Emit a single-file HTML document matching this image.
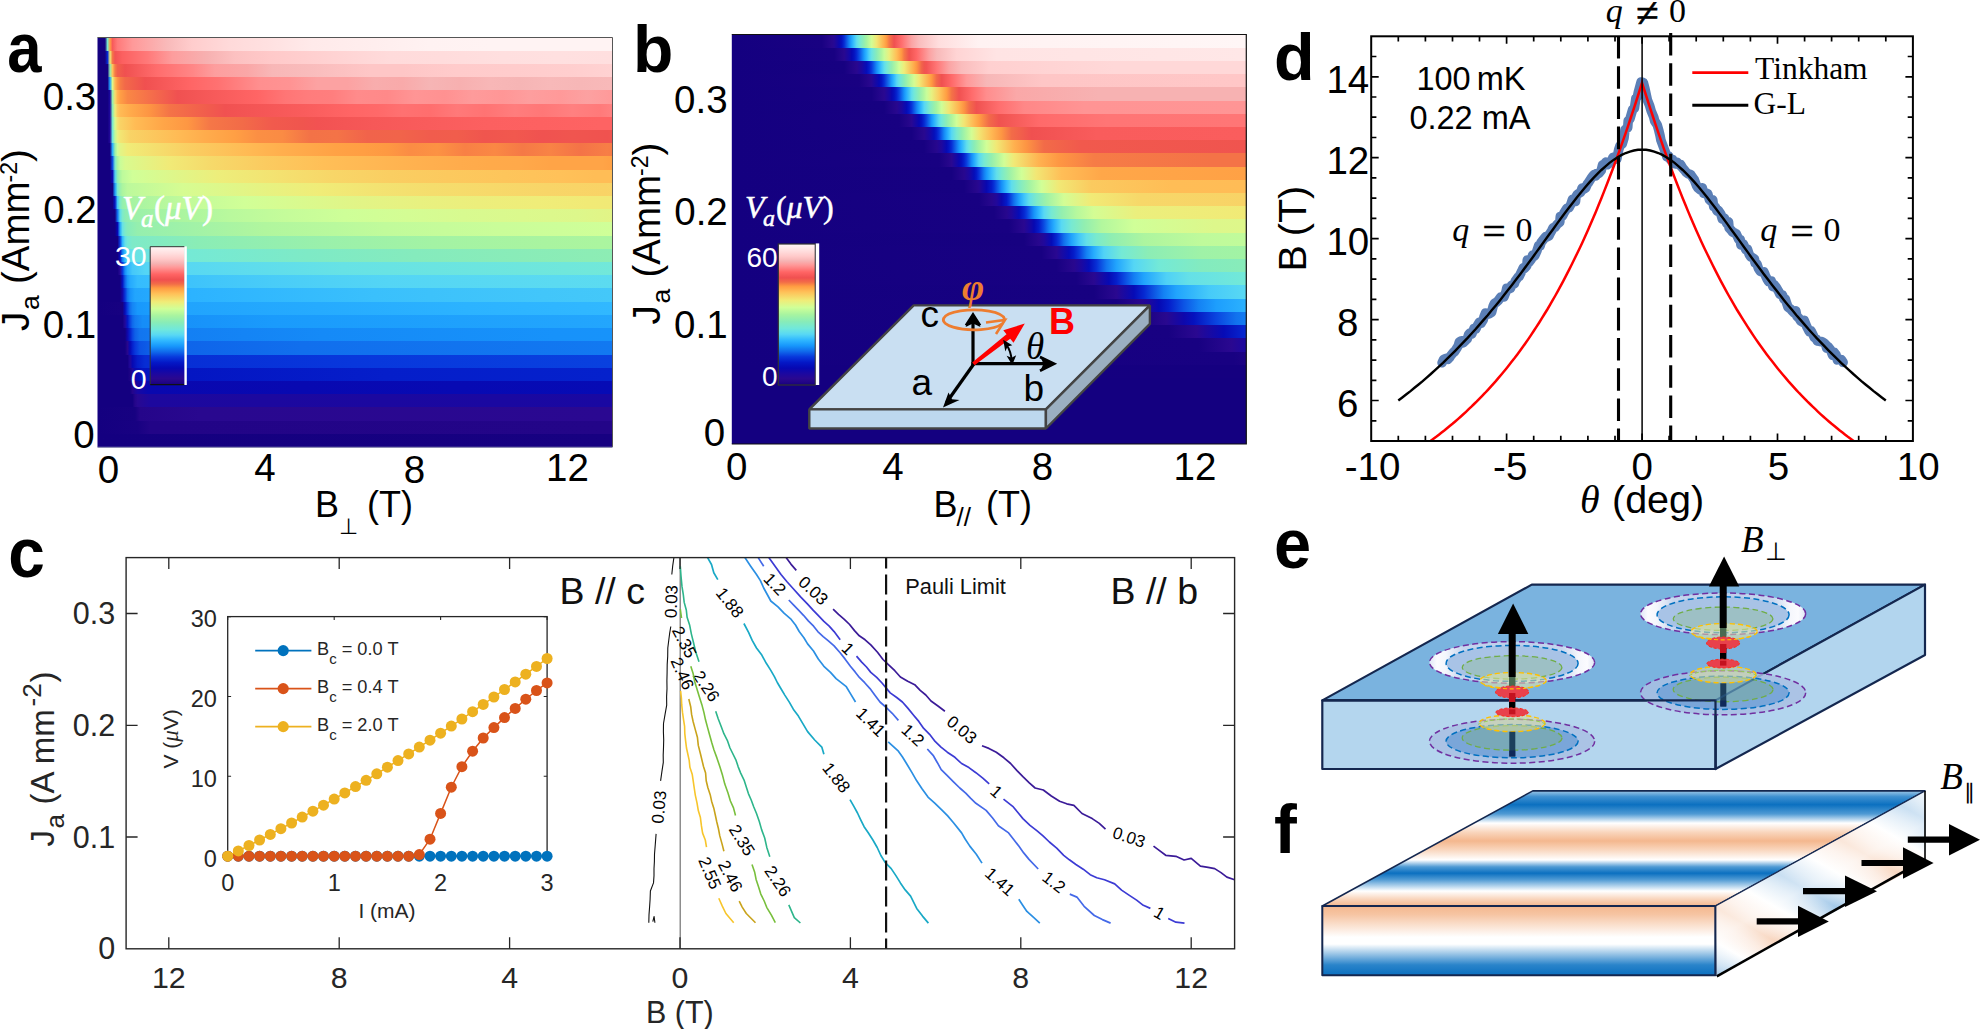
<!DOCTYPE html><html><head><meta charset="utf-8"><title>figure</title><style>html,body{margin:0;padding:0;background:#fff}svg{display:block}</style></head><body><svg width="1980" height="1029" viewBox="0 0 1980 1029" font-family="'Liberation Sans', sans-serif" fill="#000"><defs><linearGradient id="ga0" gradientUnits="userSpaceOnUse" x1="97.5" y1="0" x2="612.5" y2="0"><stop offset="0" stop-color="#140080"/><stop offset="0.01456" stop-color="#140080"/><stop offset="0.01942" stop-color="#7beacc"/><stop offset="0.02427" stop-color="#ff9f44"/><stop offset="0.02913" stop-color="#f85a5a"/><stop offset="0.03883" stop-color="#ff7a7a"/><stop offset="0.06796" stop-color="#ff9999"/><stop offset="0.1359" stop-color="#f9baba"/><stop offset="0.1845" stop-color="#ffcdcd"/><stop offset="0.2573" stop-color="#ffdada"/><stop offset="0.3252" stop-color="#ffe0e0"/><stop offset="0.4175" stop-color="#ffeaea"/><stop offset="0.5388" stop-color="#ffeeee"/><stop offset="0.6456" stop-color="#fff2f2"/><stop offset="0.7621" stop-color="#fff3f3"/><stop offset="1" stop-color="#fff3f3"/></linearGradient><linearGradient id="ga1" gradientUnits="userSpaceOnUse" x1="97.5" y1="0" x2="612.5" y2="0"><stop offset="0" stop-color="#140080"/><stop offset="0.01456" stop-color="#140080"/><stop offset="0.01942" stop-color="#062bd3"/><stop offset="0.02427" stop-color="#edee7b"/><stop offset="0.02913" stop-color="#f57647"/><stop offset="0.03398" stop-color="#f25353"/><stop offset="0.04854" stop-color="#fc6060"/><stop offset="0.09709" stop-color="#ff7979"/><stop offset="0.1456" stop-color="#fd9d9d"/><stop offset="0.2136" stop-color="#f7b1b1"/><stop offset="0.267" stop-color="#fcc1c1"/><stop offset="0.335" stop-color="#ffc9c9"/><stop offset="0.3981" stop-color="#ffcece"/><stop offset="0.5" stop-color="#ffd6d6"/><stop offset="0.568" stop-color="#ffdbdb"/><stop offset="0.6699" stop-color="#ffdcdc"/><stop offset="0.7864" stop-color="#ffdfdf"/><stop offset="0.8932" stop-color="#ffe0e0"/><stop offset="1" stop-color="#ffdfdf"/></linearGradient><linearGradient id="ga2" gradientUnits="userSpaceOnUse" x1="97.5" y1="0" x2="612.5" y2="0"><stop offset="0" stop-color="#140080"/><stop offset="0.01942" stop-color="#140080"/><stop offset="0.02427" stop-color="#91eeb1"/><stop offset="0.02913" stop-color="#fec25a"/><stop offset="0.03398" stop-color="#f67b46"/><stop offset="0.03883" stop-color="#f1604b"/><stop offset="0.0534" stop-color="#f05050"/><stop offset="0.1165" stop-color="#ff6d6d"/><stop offset="0.1845" stop-color="#ff8686"/><stop offset="0.2282" stop-color="#fd9e9e"/><stop offset="0.2913" stop-color="#faa7a7"/><stop offset="0.3398" stop-color="#f8b7b7"/><stop offset="0.4126" stop-color="#f9bcbc"/><stop offset="0.4709" stop-color="#fcc1c1"/><stop offset="0.5291" stop-color="#fec6c6"/><stop offset="0.5922" stop-color="#fec6c6"/><stop offset="0.6942" stop-color="#ffcbcb"/><stop offset="0.8107" stop-color="#ffcccc"/><stop offset="0.9175" stop-color="#ffcece"/><stop offset="1" stop-color="#ffd2d2"/></linearGradient><linearGradient id="ga3" gradientUnits="userSpaceOnUse" x1="97.5" y1="0" x2="612.5" y2="0"><stop offset="0" stop-color="#140080"/><stop offset="0.01942" stop-color="#140080"/><stop offset="0.02427" stop-color="#20a2fd"/><stop offset="0.02913" stop-color="#def78a"/><stop offset="0.03398" stop-color="#ffb853"/><stop offset="0.03883" stop-color="#fd9543"/><stop offset="0.04369" stop-color="#f67d46"/><stop offset="0.0534" stop-color="#f26949"/><stop offset="0.09223" stop-color="#f05050"/><stop offset="0.1796" stop-color="#ff6565"/><stop offset="0.233" stop-color="#ff7171"/><stop offset="0.3155" stop-color="#ff8f8f"/><stop offset="0.3738" stop-color="#ff9393"/><stop offset="0.4272" stop-color="#fca2a2"/><stop offset="0.4854" stop-color="#fca2a2"/><stop offset="0.5388" stop-color="#f8adad"/><stop offset="0.5922" stop-color="#f9aaaa"/><stop offset="0.6456" stop-color="#f6b5b5"/><stop offset="0.7039" stop-color="#f7b0b0"/><stop offset="0.7621" stop-color="#f8b7b7"/><stop offset="0.8204" stop-color="#f6b5b5"/><stop offset="0.8786" stop-color="#f8b9b9"/><stop offset="0.9369" stop-color="#f7b7b7"/><stop offset="0.9951" stop-color="#f8b9b9"/><stop offset="1" stop-color="#f8b8b8"/></linearGradient><linearGradient id="ga4" gradientUnits="userSpaceOnUse" x1="97.5" y1="0" x2="612.5" y2="0"><stop offset="0" stop-color="#140080"/><stop offset="0.01942" stop-color="#140080"/><stop offset="0.02427" stop-color="#1b08a0"/><stop offset="0.02913" stop-color="#99f0ab"/><stop offset="0.03398" stop-color="#f5dd6d"/><stop offset="0.03883" stop-color="#ffb350"/><stop offset="0.04369" stop-color="#ffa045"/><stop offset="0.05825" stop-color="#f98745"/><stop offset="0.1553" stop-color="#f05151"/><stop offset="0.3107" stop-color="#ff6565"/><stop offset="0.3641" stop-color="#ff7575"/><stop offset="0.4078" stop-color="#ff7c7c"/><stop offset="0.4563" stop-color="#ff7e7e"/><stop offset="0.5049" stop-color="#ff8b8b"/><stop offset="0.5631" stop-color="#ff8989"/><stop offset="0.6165" stop-color="#ff9595"/><stop offset="0.6748" stop-color="#ff9191"/><stop offset="0.7282" stop-color="#fe9b9b"/><stop offset="0.7864" stop-color="#ff9696"/><stop offset="0.8398" stop-color="#fd9e9e"/><stop offset="0.8981" stop-color="#ff9999"/><stop offset="0.9515" stop-color="#fca1a1"/><stop offset="1" stop-color="#ff9999"/></linearGradient><linearGradient id="ga5" gradientUnits="userSpaceOnUse" x1="97.5" y1="0" x2="612.5" y2="0"><stop offset="0" stop-color="#140080"/><stop offset="0.01942" stop-color="#140080"/><stop offset="0.02427" stop-color="#1e089e"/><stop offset="0.02913" stop-color="#89ecb7"/><stop offset="0.03398" stop-color="#ebef7d"/><stop offset="0.03883" stop-color="#fbcb60"/><stop offset="0.04369" stop-color="#ffbb55"/><stop offset="0.06311" stop-color="#ffab4b"/><stop offset="0.1019" stop-color="#fd9443"/><stop offset="0.1408" stop-color="#f47347"/><stop offset="0.2136" stop-color="#f15c4d"/><stop offset="0.2476" stop-color="#f15151"/><stop offset="0.3981" stop-color="#f95c5c"/><stop offset="0.4903" stop-color="#ff6565"/><stop offset="0.5437" stop-color="#ff6969"/><stop offset="0.5922" stop-color="#ff7171"/><stop offset="0.6456" stop-color="#ff6e6e"/><stop offset="0.699" stop-color="#ff7979"/><stop offset="0.7524" stop-color="#ff7373"/><stop offset="0.8107" stop-color="#ff7d7d"/><stop offset="0.8641" stop-color="#ff7777"/><stop offset="0.9223" stop-color="#ff8080"/><stop offset="0.9757" stop-color="#ff7a7a"/><stop offset="1" stop-color="#ff8181"/></linearGradient><linearGradient id="ga6" gradientUnits="userSpaceOnUse" x1="97.5" y1="0" x2="612.5" y2="0"><stop offset="0" stop-color="#140080"/><stop offset="0.01942" stop-color="#140080"/><stop offset="0.02427" stop-color="#20089b"/><stop offset="0.02913" stop-color="#7beacc"/><stop offset="0.03398" stop-color="#d6fc92"/><stop offset="0.03883" stop-color="#f3e371"/><stop offset="0.04369" stop-color="#f9d366"/><stop offset="0.07282" stop-color="#ffbc55"/><stop offset="0.1262" stop-color="#ffa648"/><stop offset="0.1748" stop-color="#fe9743"/><stop offset="0.2184" stop-color="#f57747"/><stop offset="0.2816" stop-color="#f26b48"/><stop offset="0.3398" stop-color="#f15a4d"/><stop offset="0.3981" stop-color="#f0554e"/><stop offset="0.4272" stop-color="#f25252"/><stop offset="0.534" stop-color="#f65858"/><stop offset="0.6408" stop-color="#f95c5c"/><stop offset="0.7573" stop-color="#fc6060"/><stop offset="0.8592" stop-color="#fd6161"/><stop offset="0.9757" stop-color="#fe6363"/><stop offset="1" stop-color="#fe6363"/></linearGradient><linearGradient id="ga7" gradientUnits="userSpaceOnUse" x1="97.5" y1="0" x2="612.5" y2="0"><stop offset="0" stop-color="#140080"/><stop offset="0.01942" stop-color="#140080"/><stop offset="0.02427" stop-color="#220899"/><stop offset="0.02913" stop-color="#6de6df"/><stop offset="0.03398" stop-color="#bffa9b"/><stop offset="0.03883" stop-color="#e6f282"/><stop offset="0.04369" stop-color="#f2e674"/><stop offset="0.06311" stop-color="#f8d366"/><stop offset="0.1553" stop-color="#ffbb55"/><stop offset="0.2087" stop-color="#ffac4c"/><stop offset="0.267" stop-color="#ff9f44"/><stop offset="0.3107" stop-color="#fb8f44"/><stop offset="0.3592" stop-color="#fa8b44"/><stop offset="0.4126" stop-color="#f37247"/><stop offset="0.466" stop-color="#f47347"/><stop offset="0.5243" stop-color="#f1634b"/><stop offset="0.5874" stop-color="#f1644a"/><stop offset="0.6456" stop-color="#f15c4d"/><stop offset="0.699" stop-color="#f15d4c"/><stop offset="0.7524" stop-color="#f0554e"/><stop offset="0.8107" stop-color="#f1584e"/><stop offset="0.8641" stop-color="#f05250"/><stop offset="0.9223" stop-color="#f0554f"/><stop offset="0.9903" stop-color="#f0524f"/><stop offset="1" stop-color="#f0544f"/></linearGradient><linearGradient id="ga8" gradientUnits="userSpaceOnUse" x1="97.5" y1="0" x2="612.5" y2="0"><stop offset="0" stop-color="#140080"/><stop offset="0.02427" stop-color="#140080"/><stop offset="0.02913" stop-color="#2ab0fe"/><stop offset="0.03398" stop-color="#99f0ab"/><stop offset="0.03883" stop-color="#cdfe99"/><stop offset="0.04369" stop-color="#e1f587"/><stop offset="0.05825" stop-color="#f0ec78"/><stop offset="0.1796" stop-color="#face62"/><stop offset="0.2913" stop-color="#ffba54"/><stop offset="0.3495" stop-color="#ffb04e"/><stop offset="0.4029" stop-color="#ffa94a"/><stop offset="0.4612" stop-color="#ffa245"/><stop offset="0.5146" stop-color="#ff9e43"/><stop offset="0.5631" stop-color="#fe9942"/><stop offset="0.6068" stop-color="#fb8c44"/><stop offset="0.6602" stop-color="#fc9243"/><stop offset="0.7136" stop-color="#f88045"/><stop offset="0.7718" stop-color="#fa8844"/><stop offset="0.8252" stop-color="#f57946"/><stop offset="0.8786" stop-color="#f88345"/><stop offset="0.9369" stop-color="#f47347"/><stop offset="0.9903" stop-color="#f77e46"/><stop offset="1" stop-color="#f67b46"/></linearGradient><linearGradient id="ga9" gradientUnits="userSpaceOnUse" x1="97.5" y1="0" x2="612.5" y2="0"><stop offset="0" stop-color="#140080"/><stop offset="0.02427" stop-color="#140080"/><stop offset="0.02913" stop-color="#0b4ce2"/><stop offset="0.03398" stop-color="#78e9d0"/><stop offset="0.03883" stop-color="#aaf5a0"/><stop offset="0.04369" stop-color="#c8fd9a"/><stop offset="0.0534" stop-color="#d9fa8f"/><stop offset="0.1408" stop-color="#f1ea77"/><stop offset="0.2233" stop-color="#f6d96a"/><stop offset="0.3252" stop-color="#fbcb60"/><stop offset="0.4369" stop-color="#ffbf57"/><stop offset="0.5388" stop-color="#ffb753"/><stop offset="0.5922" stop-color="#ffb350"/><stop offset="0.6505" stop-color="#ffaf4e"/><stop offset="0.7039" stop-color="#ffac4c"/><stop offset="0.7621" stop-color="#ffaa4a"/><stop offset="0.8204" stop-color="#ffa94a"/><stop offset="0.8786" stop-color="#ffa447"/><stop offset="0.9806" stop-color="#ffa447"/><stop offset="1" stop-color="#ffa044"/></linearGradient><linearGradient id="ga10" gradientUnits="userSpaceOnUse" x1="97.5" y1="0" x2="612.5" y2="0"><stop offset="0" stop-color="#140080"/><stop offset="0.02427" stop-color="#140080"/><stop offset="0.02913" stop-color="#0b08ae"/><stop offset="0.03398" stop-color="#4fd1f6"/><stop offset="0.03883" stop-color="#8cedb5"/><stop offset="0.04369" stop-color="#abf59f"/><stop offset="0.04854" stop-color="#bdfa9c"/><stop offset="0.06796" stop-color="#d0ff98"/><stop offset="0.233" stop-color="#edee7b"/><stop offset="0.3544" stop-color="#f4e170"/><stop offset="0.4563" stop-color="#f8d668"/><stop offset="0.568" stop-color="#face62"/><stop offset="0.6796" stop-color="#fcc95e"/><stop offset="0.7913" stop-color="#fdc55b"/><stop offset="0.8981" stop-color="#ffc159"/><stop offset="0.966" stop-color="#ffbd56"/><stop offset="1" stop-color="#ffbd56"/></linearGradient><linearGradient id="ga11" gradientUnits="userSpaceOnUse" x1="97.5" y1="0" x2="612.5" y2="0"><stop offset="0" stop-color="#140080"/><stop offset="0.02913" stop-color="#140080"/><stop offset="0.03398" stop-color="#1c9dfc"/><stop offset="0.03883" stop-color="#78e9d0"/><stop offset="0.04369" stop-color="#99f0ac"/><stop offset="0.04854" stop-color="#abf59f"/><stop offset="0.05825" stop-color="#bcf99c"/><stop offset="0.165" stop-color="#d6fc92"/><stop offset="0.3301" stop-color="#e7f281"/><stop offset="0.432" stop-color="#f0ec78"/><stop offset="0.5388" stop-color="#f3e372"/><stop offset="0.6505" stop-color="#f5dd6d"/><stop offset="0.7621" stop-color="#f7d96a"/><stop offset="0.8738" stop-color="#f8d568"/><stop offset="0.9854" stop-color="#f9d366"/><stop offset="1" stop-color="#f8d467"/></linearGradient><linearGradient id="ga12" gradientUnits="userSpaceOnUse" x1="97.5" y1="0" x2="612.5" y2="0"><stop offset="0" stop-color="#140080"/><stop offset="0.02913" stop-color="#140080"/><stop offset="0.03398" stop-color="#0415c2"/><stop offset="0.03883" stop-color="#43c8fa"/><stop offset="0.04369" stop-color="#7ceac9"/><stop offset="0.04854" stop-color="#92efb0"/><stop offset="0.05825" stop-color="#a4f3a3"/><stop offset="0.165" stop-color="#c0fa9b"/><stop offset="0.2864" stop-color="#d1ff97"/><stop offset="0.4126" stop-color="#dbf98d"/><stop offset="0.5146" stop-color="#e2f486"/><stop offset="0.6262" stop-color="#e8f180"/><stop offset="0.7379" stop-color="#ecee7c"/><stop offset="0.8544" stop-color="#efed79"/><stop offset="0.9515" stop-color="#f1ea76"/><stop offset="1" stop-color="#f1e976"/></linearGradient><linearGradient id="ga13" gradientUnits="userSpaceOnUse" x1="97.5" y1="0" x2="612.5" y2="0"><stop offset="0" stop-color="#140080"/><stop offset="0.03398" stop-color="#140080"/><stop offset="0.03883" stop-color="#106eed"/><stop offset="0.04369" stop-color="#5bdaf1"/><stop offset="0.04854" stop-color="#7ceacb"/><stop offset="0.0534" stop-color="#89ecb7"/><stop offset="0.06796" stop-color="#9af0ab"/><stop offset="0.1456" stop-color="#a8f4a0"/><stop offset="0.2573" stop-color="#b9f99d"/><stop offset="0.3689" stop-color="#c5fc9a"/><stop offset="0.4806" stop-color="#ceff98"/><stop offset="0.6019" stop-color="#d4fd94"/><stop offset="0.7087" stop-color="#d8fa90"/><stop offset="0.8252" stop-color="#dbf98d"/><stop offset="0.932" stop-color="#ddf78b"/><stop offset="1" stop-color="#e2f486"/></linearGradient><linearGradient id="ga14" gradientUnits="userSpaceOnUse" x1="97.5" y1="0" x2="612.5" y2="0"><stop offset="0" stop-color="#140080"/><stop offset="0.03398" stop-color="#140080"/><stop offset="0.03883" stop-color="#0708b2"/><stop offset="0.04369" stop-color="#22a5fd"/><stop offset="0.04854" stop-color="#66e1e6"/><stop offset="0.0534" stop-color="#7ceaca"/><stop offset="0.05825" stop-color="#86ecbb"/><stop offset="0.07767" stop-color="#95efae"/><stop offset="0.3252" stop-color="#b1f69e"/><stop offset="0.4612" stop-color="#b9f99d"/><stop offset="0.5583" stop-color="#c1fb9b"/><stop offset="0.6748" stop-color="#c6fc9a"/><stop offset="0.7816" stop-color="#cafd99"/><stop offset="0.8981" stop-color="#cdfe99"/><stop offset="1" stop-color="#d0ff98"/></linearGradient><linearGradient id="ga15" gradientUnits="userSpaceOnUse" x1="97.5" y1="0" x2="612.5" y2="0"><stop offset="0" stop-color="#140080"/><stop offset="0.03883" stop-color="#140080"/><stop offset="0.04369" stop-color="#0839dc"/><stop offset="0.04854" stop-color="#2fb7ff"/><stop offset="0.0534" stop-color="#63dfe9"/><stop offset="0.05825" stop-color="#73e9d7"/><stop offset="0.06796" stop-color="#7eeac8"/><stop offset="0.1942" stop-color="#8aedb6"/><stop offset="0.4369" stop-color="#9af0ab"/><stop offset="0.6505" stop-color="#a3f3a4"/><stop offset="0.8689" stop-color="#a9f4a0"/><stop offset="0.9806" stop-color="#abf59f"/><stop offset="1" stop-color="#aaf5a0"/></linearGradient><linearGradient id="ga16" gradientUnits="userSpaceOnUse" x1="97.5" y1="0" x2="612.5" y2="0"><stop offset="0" stop-color="#140080"/><stop offset="0.03883" stop-color="#140080"/><stop offset="0.04369" stop-color="#060bb5"/><stop offset="0.04854" stop-color="#1481f4"/><stop offset="0.0534" stop-color="#36bdfd"/><stop offset="0.05825" stop-color="#57d8f4"/><stop offset="0.06796" stop-color="#67e2e5"/><stop offset="0.1602" stop-color="#74e9d6"/><stop offset="0.4078" stop-color="#7eeac6"/><stop offset="0.6165" stop-color="#85ebbd"/><stop offset="1" stop-color="#8dedb4"/></linearGradient><linearGradient id="ga17" gradientUnits="userSpaceOnUse" x1="97.5" y1="0" x2="612.5" y2="0"><stop offset="0" stop-color="#140080"/><stop offset="0.03883" stop-color="#140080"/><stop offset="0.04369" stop-color="#270893"/><stop offset="0.04854" stop-color="#0836da"/><stop offset="0.0534" stop-color="#168ef9"/><stop offset="0.05825" stop-color="#2ab0fe"/><stop offset="0.06796" stop-color="#45c8f9"/><stop offset="0.09223" stop-color="#54d5f5"/><stop offset="0.4757" stop-color="#67e2e5"/><stop offset="1" stop-color="#72e8d9"/></linearGradient><linearGradient id="ga18" gradientUnits="userSpaceOnUse" x1="97.5" y1="0" x2="612.5" y2="0"><stop offset="0" stop-color="#140080"/><stop offset="0.04369" stop-color="#140080"/><stop offset="0.04854" stop-color="#0513bf"/><stop offset="0.0534" stop-color="#0f62e9"/><stop offset="0.05825" stop-color="#1895fb"/><stop offset="0.06311" stop-color="#25a9fe"/><stop offset="0.07767" stop-color="#35bcfe"/><stop offset="0.2282" stop-color="#42c6fa"/><stop offset="0.3398" stop-color="#49ccf8"/><stop offset="0.4515" stop-color="#4fd1f6"/><stop offset="0.5631" stop-color="#54d5f5"/><stop offset="0.8883" stop-color="#5bdaf1"/><stop offset="1" stop-color="#5cdbf0"/></linearGradient><linearGradient id="ga19" gradientUnits="userSpaceOnUse" x1="97.5" y1="0" x2="612.5" y2="0"><stop offset="0" stop-color="#140080"/><stop offset="0.04369" stop-color="#140080"/><stop offset="0.04854" stop-color="#1208a8"/><stop offset="0.0534" stop-color="#0835da"/><stop offset="0.05825" stop-color="#1274ef"/><stop offset="0.06311" stop-color="#1792fa"/><stop offset="0.07282" stop-color="#22a5fd"/><stop offset="0.1845" stop-color="#2cb3ff"/><stop offset="0.5388" stop-color="#3ac0fc"/><stop offset="0.6456" stop-color="#3dc2fb"/><stop offset="0.8641" stop-color="#42c6fa"/><stop offset="1" stop-color="#44c8f9"/></linearGradient><linearGradient id="ga20" gradientUnits="userSpaceOnUse" x1="97.5" y1="0" x2="612.5" y2="0"><stop offset="0" stop-color="#140080"/><stop offset="0.04854" stop-color="#170181"/><stop offset="0.0534" stop-color="#050eba"/><stop offset="0.05825" stop-color="#093ede"/><stop offset="0.06311" stop-color="#106fed"/><stop offset="0.06796" stop-color="#1585f5"/><stop offset="0.07767" stop-color="#1898fc"/><stop offset="0.1408" stop-color="#20a3fd"/><stop offset="0.7184" stop-color="#2cb3ff"/><stop offset="1" stop-color="#31b8ff"/></linearGradient><linearGradient id="ga21" gradientUnits="userSpaceOnUse" x1="97.5" y1="0" x2="612.5" y2="0"><stop offset="0" stop-color="#140080"/><stop offset="0.04854" stop-color="#140080"/><stop offset="0.0534" stop-color="#220899"/><stop offset="0.05825" stop-color="#0417c5"/><stop offset="0.06311" stop-color="#0a43e0"/><stop offset="0.06796" stop-color="#0f68eb"/><stop offset="0.07282" stop-color="#137af1"/><stop offset="0.08738" stop-color="#168df8"/><stop offset="0.3447" stop-color="#1a9bfc"/><stop offset="1" stop-color="#23a6fd"/></linearGradient><linearGradient id="ga22" gradientUnits="userSpaceOnUse" x1="97.5" y1="0" x2="612.5" y2="0"><stop offset="0" stop-color="#140080"/><stop offset="0.0534" stop-color="#140080"/><stop offset="0.05825" stop-color="#0f08ab"/><stop offset="0.06311" stop-color="#0522cd"/><stop offset="0.06796" stop-color="#0a45e0"/><stop offset="0.07282" stop-color="#0e60e8"/><stop offset="0.08252" stop-color="#1275ef"/><stop offset="0.1311" stop-color="#137ef3"/><stop offset="0.4369" stop-color="#158af7"/><stop offset="0.8883" stop-color="#1792fa"/><stop offset="1" stop-color="#1793fa"/></linearGradient><linearGradient id="ga23" gradientUnits="userSpaceOnUse" x1="97.5" y1="0" x2="612.5" y2="0"><stop offset="0" stop-color="#140080"/><stop offset="0.0534" stop-color="#140080"/><stop offset="0.05825" stop-color="#28078d"/><stop offset="0.06311" stop-color="#0609b4"/><stop offset="0.06796" stop-color="#0521cc"/><stop offset="0.07282" stop-color="#0836db"/><stop offset="0.08252" stop-color="#0c53e4"/><stop offset="0.1068" stop-color="#0e62e9"/><stop offset="0.3981" stop-color="#116fed"/><stop offset="1" stop-color="#1279f1"/></linearGradient><linearGradient id="ga24" gradientUnits="userSpaceOnUse" x1="97.5" y1="0" x2="612.5" y2="0"><stop offset="0" stop-color="#140080"/><stop offset="0.05825" stop-color="#140080"/><stop offset="0.06311" stop-color="#220899"/><stop offset="0.06796" stop-color="#0708b1"/><stop offset="0.07767" stop-color="#051dc9"/><stop offset="0.09223" stop-color="#072dd4"/><stop offset="0.4951" stop-color="#0837dc"/><stop offset="1" stop-color="#0941df"/></linearGradient><linearGradient id="ga25" gradientUnits="userSpaceOnUse" x1="97.5" y1="0" x2="612.5" y2="0"><stop offset="0" stop-color="#140080"/><stop offset="0.05825" stop-color="#140080"/><stop offset="0.06311" stop-color="#1d0384"/><stop offset="0.06796" stop-color="#1e089e"/><stop offset="0.07282" stop-color="#0b08ae"/><stop offset="0.08738" stop-color="#0414c1"/><stop offset="0.5583" stop-color="#051eca"/><stop offset="1" stop-color="#0521cc"/></linearGradient><linearGradient id="ga26" gradientUnits="userSpaceOnUse" x1="97.5" y1="0" x2="612.5" y2="0"><stop offset="0" stop-color="#140080"/><stop offset="0.06311" stop-color="#140080"/><stop offset="0.06796" stop-color="#25058a"/><stop offset="0.07767" stop-color="#1808a3"/><stop offset="0.09709" stop-color="#0908af"/><stop offset="1" stop-color="#060bb5"/></linearGradient><linearGradient id="ga27" gradientUnits="userSpaceOnUse" x1="97.5" y1="0" x2="612.5" y2="0"><stop offset="0" stop-color="#140080"/><stop offset="0.06796" stop-color="#140080"/><stop offset="0.07282" stop-color="#25058a"/><stop offset="0.07767" stop-color="#280892"/><stop offset="0.1019" stop-color="#1d089e"/><stop offset="1" stop-color="#1908a2"/></linearGradient><linearGradient id="ga28" gradientUnits="userSpaceOnUse" x1="97.5" y1="0" x2="612.5" y2="0"><stop offset="0" stop-color="#140080"/><stop offset="0.07282" stop-color="#170181"/><stop offset="0.08252" stop-color="#25058a"/><stop offset="0.199" stop-color="#29088f"/><stop offset="1" stop-color="#2a0891"/></linearGradient><linearGradient id="ga29" gradientUnits="userSpaceOnUse" x1="97.5" y1="0" x2="612.5" y2="0"><stop offset="0" stop-color="#140080"/><stop offset="0.07767" stop-color="#180182"/><stop offset="0.1019" stop-color="#220487"/><stop offset="1" stop-color="#230588"/></linearGradient><linearGradient id="ga30" gradientUnits="userSpaceOnUse" x1="97.5" y1="0" x2="612.5" y2="0"><stop offset="0" stop-color="#140080"/><stop offset="1" stop-color="#170181"/></linearGradient><linearGradient id="cb" x1="0" y1="0" x2="0" y2="1"><stop offset="0.000" stop-color="#fff6f6"/><stop offset="0.050" stop-color="#ffdede"/><stop offset="0.090" stop-color="#ffc8c8"/><stop offset="0.120" stop-color="#f6b4b4"/><stop offset="0.150" stop-color="#ff9898"/><stop offset="0.200" stop-color="#ff6464"/><stop offset="0.240" stop-color="#f05050"/><stop offset="0.270" stop-color="#f26c48"/><stop offset="0.300" stop-color="#ff9c42"/><stop offset="0.340" stop-color="#ffc058"/><stop offset="0.400" stop-color="#f0ec78"/><stop offset="0.450" stop-color="#d0ff98"/><stop offset="0.500" stop-color="#a8f4a0"/><stop offset="0.550" stop-color="#88ecb8"/><stop offset="0.600" stop-color="#70e8dc"/><stop offset="0.640" stop-color="#58d8f4"/><stop offset="0.680" stop-color="#30b8ff"/><stop offset="0.720" stop-color="#1898fc"/><stop offset="0.760" stop-color="#106cec"/><stop offset="0.800" stop-color="#0838dc"/><stop offset="0.840" stop-color="#0418c6"/><stop offset="0.880" stop-color="#0608b2"/><stop offset="0.920" stop-color="#1c08a0"/><stop offset="0.955" stop-color="#2a0890"/><stop offset="0.980" stop-color="#220486"/><stop offset="1.000" stop-color="#140080"/></linearGradient><linearGradient id="gb0" gradientUnits="userSpaceOnUse" x1="731.8" y1="0" x2="1246.3" y2="0"><stop offset="0" stop-color="#140080"/><stop offset="0.1748" stop-color="#190182"/><stop offset="0.1942" stop-color="#28078d"/><stop offset="0.199" stop-color="#260894"/><stop offset="0.2087" stop-color="#0c08ad"/><stop offset="0.2136" stop-color="#0512bf"/><stop offset="0.2184" stop-color="#072cd4"/><stop offset="0.2282" stop-color="#1587f6"/><stop offset="0.233" stop-color="#24a8fe"/><stop offset="0.2379" stop-color="#3fc4fb"/><stop offset="0.2427" stop-color="#5edcee"/><stop offset="0.2476" stop-color="#71e8da"/><stop offset="0.2573" stop-color="#93efb0"/><stop offset="0.2621" stop-color="#a6f4a1"/><stop offset="0.2718" stop-color="#d3fd95"/><stop offset="0.2816" stop-color="#f2e674"/><stop offset="0.2961" stop-color="#ffae4d"/><stop offset="0.301" stop-color="#fe9942"/><stop offset="0.3058" stop-color="#f57846"/><stop offset="0.3155" stop-color="#f05050"/><stop offset="0.3301" stop-color="#ff6e6e"/><stop offset="0.3495" stop-color="#fba4a4"/><stop offset="0.3641" stop-color="#fabdbd"/><stop offset="0.4029" stop-color="#ffdede"/><stop offset="0.4806" stop-color="#fff2f2"/><stop offset="1" stop-color="#fff6f6"/></linearGradient><linearGradient id="gb1" gradientUnits="userSpaceOnUse" x1="731.8" y1="0" x2="1246.3" y2="0"><stop offset="0" stop-color="#140080"/><stop offset="0.199" stop-color="#180182"/><stop offset="0.2184" stop-color="#29088f"/><stop offset="0.2282" stop-color="#1608a5"/><stop offset="0.233" stop-color="#0708b1"/><stop offset="0.2379" stop-color="#0513c0"/><stop offset="0.2427" stop-color="#0629d2"/><stop offset="0.2476" stop-color="#0b4ce2"/><stop offset="0.2573" stop-color="#1b9cfc"/><stop offset="0.2621" stop-color="#30b8ff"/><stop offset="0.267" stop-color="#52d3f6"/><stop offset="0.2718" stop-color="#68e3e4"/><stop offset="0.2816" stop-color="#89ecb8"/><stop offset="0.2913" stop-color="#b0f69e"/><stop offset="0.2961" stop-color="#c7fc9a"/><stop offset="0.3058" stop-color="#eaef7e"/><stop offset="0.3204" stop-color="#ffbe57"/><stop offset="0.3301" stop-color="#fe9743"/><stop offset="0.335" stop-color="#f57846"/><stop offset="0.3447" stop-color="#f0524f"/><stop offset="0.3592" stop-color="#ff6767"/><stop offset="0.3835" stop-color="#fca2a2"/><stop offset="0.3981" stop-color="#f8b9b9"/><stop offset="0.4369" stop-color="#ffd4d4"/><stop offset="0.5146" stop-color="#ffe4e4"/><stop offset="1" stop-color="#ffe7e7"/></linearGradient><linearGradient id="gb2" gradientUnits="userSpaceOnUse" x1="731.8" y1="0" x2="1246.3" y2="0"><stop offset="0" stop-color="#140080"/><stop offset="0.2184" stop-color="#170181"/><stop offset="0.2427" stop-color="#29078e"/><stop offset="0.2524" stop-color="#1c08a0"/><stop offset="0.2621" stop-color="#050eba"/><stop offset="0.267" stop-color="#051eca"/><stop offset="0.2718" stop-color="#083add"/><stop offset="0.2816" stop-color="#168ef8"/><stop offset="0.2864" stop-color="#27acfe"/><stop offset="0.2913" stop-color="#43c7fa"/><stop offset="0.2961" stop-color="#5fdded"/><stop offset="0.301" stop-color="#72e8d9"/><stop offset="0.3107" stop-color="#92eeb1"/><stop offset="0.3204" stop-color="#baf99c"/><stop offset="0.3252" stop-color="#cfff98"/><stop offset="0.335" stop-color="#efed79"/><stop offset="0.3544" stop-color="#ffaa4b"/><stop offset="0.3592" stop-color="#fe9743"/><stop offset="0.3689" stop-color="#f1654a"/><stop offset="0.3738" stop-color="#f0564e"/><stop offset="0.3786" stop-color="#f35454"/><stop offset="0.3981" stop-color="#ff7676"/><stop offset="0.4223" stop-color="#fba4a4"/><stop offset="0.4466" stop-color="#fabcbc"/><stop offset="0.5" stop-color="#ffd0d0"/><stop offset="0.7427" stop-color="#ffd8d8"/><stop offset="1" stop-color="#ffd8d8"/></linearGradient><linearGradient id="gb3" gradientUnits="userSpaceOnUse" x1="731.8" y1="0" x2="1246.3" y2="0"><stop offset="0" stop-color="#140080"/><stop offset="0.2476" stop-color="#190182"/><stop offset="0.267" stop-color="#27068c"/><stop offset="0.2718" stop-color="#270893"/><stop offset="0.2864" stop-color="#060ab4"/><stop offset="0.2913" stop-color="#0416c3"/><stop offset="0.2961" stop-color="#072ed5"/><stop offset="0.3107" stop-color="#1ea0fd"/><stop offset="0.3155" stop-color="#34bbfe"/><stop offset="0.3204" stop-color="#55d5f5"/><stop offset="0.3252" stop-color="#69e3e3"/><stop offset="0.335" stop-color="#88ecb8"/><stop offset="0.3447" stop-color="#adf59f"/><stop offset="0.3544" stop-color="#d5fc93"/><stop offset="0.3641" stop-color="#f1e976"/><stop offset="0.3835" stop-color="#ffaa4b"/><stop offset="0.3883" stop-color="#fe9a42"/><stop offset="0.3981" stop-color="#f26949"/><stop offset="0.4078" stop-color="#f05050"/><stop offset="0.4272" stop-color="#ff6969"/><stop offset="0.4563" stop-color="#ff9999"/><stop offset="0.4951" stop-color="#f7b7b7"/><stop offset="0.6019" stop-color="#fec6c6"/><stop offset="1" stop-color="#ffc7c7"/></linearGradient><linearGradient id="gb4" gradientUnits="userSpaceOnUse" x1="731.8" y1="0" x2="1246.3" y2="0"><stop offset="0" stop-color="#140080"/><stop offset="0.2718" stop-color="#180182"/><stop offset="0.2961" stop-color="#2a0890"/><stop offset="0.3058" stop-color="#1908a3"/><stop offset="0.3107" stop-color="#0a08af"/><stop offset="0.3155" stop-color="#0511bd"/><stop offset="0.3204" stop-color="#0524ce"/><stop offset="0.3252" stop-color="#0a42df"/><stop offset="0.335" stop-color="#1793fa"/><stop offset="0.3398" stop-color="#29affe"/><stop offset="0.3495" stop-color="#60ddec"/><stop offset="0.3544" stop-color="#72e8d9"/><stop offset="0.3641" stop-color="#90eeb2"/><stop offset="0.3738" stop-color="#b4f79e"/><stop offset="0.3786" stop-color="#c8fd9a"/><stop offset="0.3883" stop-color="#e7f181"/><stop offset="0.4029" stop-color="#fcca5f"/><stop offset="0.4175" stop-color="#ff9e43"/><stop offset="0.4272" stop-color="#f47347"/><stop offset="0.4417" stop-color="#f15151"/><stop offset="0.466" stop-color="#ff6b6b"/><stop offset="0.4951" stop-color="#ff8d8d"/><stop offset="0.5534" stop-color="#faa8a8"/><stop offset="0.7136" stop-color="#f7b2b2"/><stop offset="1" stop-color="#f7b2b2"/></linearGradient><linearGradient id="gb5" gradientUnits="userSpaceOnUse" x1="731.8" y1="0" x2="1246.3" y2="0"><stop offset="0" stop-color="#140080"/><stop offset="0.2961" stop-color="#170181"/><stop offset="0.3204" stop-color="#28078e"/><stop offset="0.3301" stop-color="#1d089e"/><stop offset="0.3398" stop-color="#050cb7"/><stop offset="0.3447" stop-color="#0419c7"/><stop offset="0.3495" stop-color="#0733d9"/><stop offset="0.3592" stop-color="#1483f4"/><stop offset="0.3641" stop-color="#20a3fd"/><stop offset="0.3689" stop-color="#37bdfd"/><stop offset="0.3738" stop-color="#56d6f5"/><stop offset="0.3835" stop-color="#79e9cf"/><stop offset="0.3932" stop-color="#97f0ad"/><stop offset="0.3981" stop-color="#a7f4a0"/><stop offset="0.4078" stop-color="#cdfe99"/><stop offset="0.4223" stop-color="#f2e573"/><stop offset="0.4417" stop-color="#ffb14f"/><stop offset="0.4515" stop-color="#fd9443"/><stop offset="0.4612" stop-color="#f36e48"/><stop offset="0.4757" stop-color="#f05150"/><stop offset="0.5194" stop-color="#ff6e6e"/><stop offset="0.568" stop-color="#ff8787"/><stop offset="0.6845" stop-color="#ff9494"/><stop offset="1" stop-color="#ff9595"/></linearGradient><linearGradient id="gb6" gradientUnits="userSpaceOnUse" x1="731.8" y1="0" x2="1246.3" y2="0"><stop offset="0" stop-color="#140080"/><stop offset="0.3252" stop-color="#180182"/><stop offset="0.3447" stop-color="#26068b"/><stop offset="0.3495" stop-color="#290892"/><stop offset="0.3641" stop-color="#0708b1"/><stop offset="0.3689" stop-color="#0513c0"/><stop offset="0.3738" stop-color="#0629d1"/><stop offset="0.3786" stop-color="#0b4ae1"/><stop offset="0.3883" stop-color="#1897fc"/><stop offset="0.3932" stop-color="#2bb1fe"/><stop offset="0.4029" stop-color="#60ddec"/><stop offset="0.4078" stop-color="#71e8da"/><stop offset="0.4175" stop-color="#8dedb5"/><stop offset="0.4272" stop-color="#adf59f"/><stop offset="0.4369" stop-color="#d1fe97"/><stop offset="0.4515" stop-color="#f2e573"/><stop offset="0.4709" stop-color="#ffb552"/><stop offset="0.4806" stop-color="#ff9f44"/><stop offset="0.5" stop-color="#f26a49"/><stop offset="0.5194" stop-color="#f0524f"/><stop offset="0.5971" stop-color="#ff6a6a"/><stop offset="0.7282" stop-color="#ff7575"/><stop offset="1" stop-color="#ff7676"/></linearGradient><linearGradient id="gb7" gradientUnits="userSpaceOnUse" x1="731.8" y1="0" x2="1246.3" y2="0"><stop offset="0" stop-color="#140080"/><stop offset="0.3495" stop-color="#180182"/><stop offset="0.3738" stop-color="#29088f"/><stop offset="0.3835" stop-color="#1b08a1"/><stop offset="0.3932" stop-color="#050fba"/><stop offset="0.3981" stop-color="#051eca"/><stop offset="0.4029" stop-color="#0838dc"/><stop offset="0.4126" stop-color="#1588f6"/><stop offset="0.4175" stop-color="#22a6fd"/><stop offset="0.4223" stop-color="#38bffd"/><stop offset="0.4272" stop-color="#56d7f4"/><stop offset="0.4369" stop-color="#77e9d1"/><stop offset="0.4466" stop-color="#92efb0"/><stop offset="0.4563" stop-color="#b2f79e"/><stop offset="0.466" stop-color="#d3fd95"/><stop offset="0.4806" stop-color="#f2e573"/><stop offset="0.5049" stop-color="#ffb853"/><stop offset="0.5243" stop-color="#fd9643"/><stop offset="0.5437" stop-color="#f26c48"/><stop offset="0.5825" stop-color="#f05050"/><stop offset="0.7087" stop-color="#f95c5c"/><stop offset="1" stop-color="#fa5d5d"/></linearGradient><linearGradient id="gb8" gradientUnits="userSpaceOnUse" x1="731.8" y1="0" x2="1246.3" y2="0"><stop offset="0" stop-color="#140080"/><stop offset="0.3738" stop-color="#170181"/><stop offset="0.3981" stop-color="#27078d"/><stop offset="0.4078" stop-color="#1f089d"/><stop offset="0.4175" stop-color="#060ab4"/><stop offset="0.4223" stop-color="#0416c3"/><stop offset="0.4272" stop-color="#072dd5"/><stop offset="0.4417" stop-color="#1a9afc"/><stop offset="0.4466" stop-color="#2cb3ff"/><stop offset="0.4563" stop-color="#5fdded"/><stop offset="0.4612" stop-color="#70e8dc"/><stop offset="0.4709" stop-color="#89ecb7"/><stop offset="0.4806" stop-color="#a7f4a1"/><stop offset="0.4951" stop-color="#d1fe97"/><stop offset="0.5146" stop-color="#f1e875"/><stop offset="0.5485" stop-color="#ffb14f"/><stop offset="0.5728" stop-color="#fd9443"/><stop offset="0.6068" stop-color="#f26b48"/><stop offset="0.6796" stop-color="#f1594d"/><stop offset="1" stop-color="#f0544f"/></linearGradient><linearGradient id="gb9" gradientUnits="userSpaceOnUse" x1="731.8" y1="0" x2="1246.3" y2="0"><stop offset="0" stop-color="#140080"/><stop offset="0.4029" stop-color="#180182"/><stop offset="0.4223" stop-color="#26068b"/><stop offset="0.4272" stop-color="#2a0890"/><stop offset="0.4417" stop-color="#0a08af"/><stop offset="0.4466" stop-color="#0511bd"/><stop offset="0.4515" stop-color="#0523cd"/><stop offset="0.4563" stop-color="#093ede"/><stop offset="0.466" stop-color="#168cf8"/><stop offset="0.4709" stop-color="#24a9fe"/><stop offset="0.4806" stop-color="#58d8f4"/><stop offset="0.4903" stop-color="#75e9d4"/><stop offset="0.5049" stop-color="#94efaf"/><stop offset="0.5194" stop-color="#b8f89d"/><stop offset="0.5291" stop-color="#d1fe97"/><stop offset="0.5485" stop-color="#f1e976"/><stop offset="0.5971" stop-color="#ffb250"/><stop offset="0.6359" stop-color="#fe9743"/><stop offset="0.7039" stop-color="#f67c46"/><stop offset="0.932" stop-color="#f47347"/><stop offset="1" stop-color="#f47347"/></linearGradient><linearGradient id="gb10" gradientUnits="userSpaceOnUse" x1="731.8" y1="0" x2="1246.3" y2="0"><stop offset="0" stop-color="#140080"/><stop offset="0.4272" stop-color="#170181"/><stop offset="0.4515" stop-color="#28078e"/><stop offset="0.4612" stop-color="#1d089f"/><stop offset="0.4709" stop-color="#050db8"/><stop offset="0.4757" stop-color="#041bc8"/><stop offset="0.4806" stop-color="#0835da"/><stop offset="0.4903" stop-color="#137df2"/><stop offset="0.4951" stop-color="#1999fc"/><stop offset="0.5049" stop-color="#3ac0fc"/><stop offset="0.5146" stop-color="#61deeb"/><stop offset="0.5243" stop-color="#79eace"/><stop offset="0.5388" stop-color="#9af1aa"/><stop offset="0.5534" stop-color="#bcf99c"/><stop offset="0.5631" stop-color="#d0ff98"/><stop offset="0.5922" stop-color="#f2e674"/><stop offset="0.6408" stop-color="#ffbe57"/><stop offset="0.7184" stop-color="#ffa749"/><stop offset="1" stop-color="#ffa145"/></linearGradient><linearGradient id="gb11" gradientUnits="userSpaceOnUse" x1="731.8" y1="0" x2="1246.3" y2="0"><stop offset="0" stop-color="#140080"/><stop offset="0.4515" stop-color="#170181"/><stop offset="0.4757" stop-color="#27078c"/><stop offset="0.4806" stop-color="#270893"/><stop offset="0.4951" stop-color="#0808b0"/><stop offset="0.5049" stop-color="#051cc9"/><stop offset="0.5097" stop-color="#0731d7"/><stop offset="0.5243" stop-color="#168ff9"/><stop offset="0.534" stop-color="#34bbfe"/><stop offset="0.5437" stop-color="#5fdded"/><stop offset="0.5583" stop-color="#7eeac7"/><stop offset="0.5777" stop-color="#a2f3a4"/><stop offset="0.6019" stop-color="#d1ff97"/><stop offset="0.6359" stop-color="#f1e875"/><stop offset="0.699" stop-color="#fbca5f"/><stop offset="0.8544" stop-color="#ffbd56"/><stop offset="1" stop-color="#ffbc56"/></linearGradient><linearGradient id="gb12" gradientUnits="userSpaceOnUse" x1="731.8" y1="0" x2="1246.3" y2="0"><stop offset="0" stop-color="#140080"/><stop offset="0.4806" stop-color="#180182"/><stop offset="0.5049" stop-color="#27078d"/><stop offset="0.5146" stop-color="#22089a"/><stop offset="0.5243" stop-color="#0c08ad"/><stop offset="0.534" stop-color="#041ac8"/><stop offset="0.5388" stop-color="#0731d7"/><stop offset="0.5485" stop-color="#1171ee"/><stop offset="0.5583" stop-color="#1fa1fd"/><stop offset="0.568" stop-color="#3fc4fb"/><stop offset="0.5777" stop-color="#61deeb"/><stop offset="0.5922" stop-color="#7eeac8"/><stop offset="0.6117" stop-color="#9ff2a7"/><stop offset="0.6456" stop-color="#d3fd95"/><stop offset="0.699" stop-color="#f1ea76"/><stop offset="0.7961" stop-color="#f7d769"/><stop offset="1" stop-color="#f8d366"/></linearGradient><linearGradient id="gb13" gradientUnits="userSpaceOnUse" x1="731.8" y1="0" x2="1246.3" y2="0"><stop offset="0" stop-color="#140080"/><stop offset="0.5097" stop-color="#180182"/><stop offset="0.534" stop-color="#27078d"/><stop offset="0.5437" stop-color="#21089b"/><stop offset="0.5583" stop-color="#050db8"/><stop offset="0.568" stop-color="#0627d1"/><stop offset="0.5728" stop-color="#093cdd"/><stop offset="0.5874" stop-color="#1793fa"/><stop offset="0.5971" stop-color="#30b8ff"/><stop offset="0.6068" stop-color="#58d8f4"/><stop offset="0.6214" stop-color="#76e9d3"/><stop offset="0.6408" stop-color="#93efb0"/><stop offset="0.6699" stop-color="#b6f89d"/><stop offset="0.7039" stop-color="#d4fd94"/><stop offset="0.7864" stop-color="#ebef7d"/><stop offset="1" stop-color="#f1ea76"/></linearGradient><linearGradient id="gb14" gradientUnits="userSpaceOnUse" x1="731.8" y1="0" x2="1246.3" y2="0"><stop offset="0" stop-color="#140080"/><stop offset="0.5388" stop-color="#180182"/><stop offset="0.568" stop-color="#2a0890"/><stop offset="0.5825" stop-color="#1308a7"/><stop offset="0.5874" stop-color="#0708b1"/><stop offset="0.5971" stop-color="#051dc9"/><stop offset="0.6068" stop-color="#0b4ce2"/><stop offset="0.6165" stop-color="#1484f5"/><stop offset="0.6262" stop-color="#27acfe"/><stop offset="0.6408" stop-color="#59d9f3"/><stop offset="0.6602" stop-color="#77e9d2"/><stop offset="0.6845" stop-color="#91eeb1"/><stop offset="0.7184" stop-color="#b2f79e"/><stop offset="0.7816" stop-color="#d0ff98"/><stop offset="0.9369" stop-color="#ddf78b"/><stop offset="1" stop-color="#def78a"/></linearGradient><linearGradient id="gb15" gradientUnits="userSpaceOnUse" x1="731.8" y1="0" x2="1246.3" y2="0"><stop offset="0" stop-color="#140080"/><stop offset="0.568" stop-color="#170181"/><stop offset="0.5971" stop-color="#28078e"/><stop offset="0.6068" stop-color="#21089b"/><stop offset="0.6214" stop-color="#050cb7"/><stop offset="0.6311" stop-color="#0627d0"/><stop offset="0.6359" stop-color="#083bdd"/><stop offset="0.6456" stop-color="#116fed"/><stop offset="0.6602" stop-color="#21a3fd"/><stop offset="0.6748" stop-color="#43c7fa"/><stop offset="0.6893" stop-color="#63dfe9"/><stop offset="0.7087" stop-color="#7aeacd"/><stop offset="0.7379" stop-color="#8feeb2"/><stop offset="0.801" stop-color="#adf59f"/><stop offset="0.9126" stop-color="#bffa9b"/><stop offset="1" stop-color="#c1fb9b"/></linearGradient><linearGradient id="gb16" gradientUnits="userSpaceOnUse" x1="731.8" y1="0" x2="1246.3" y2="0"><stop offset="0" stop-color="#140080"/><stop offset="0.6019" stop-color="#180182"/><stop offset="0.6311" stop-color="#290891"/><stop offset="0.6553" stop-color="#060cb7"/><stop offset="0.665" stop-color="#051dca"/><stop offset="0.6748" stop-color="#093dde"/><stop offset="0.6893" stop-color="#1480f3"/><stop offset="0.7039" stop-color="#27acfe"/><stop offset="0.7233" stop-color="#51d3f6"/><stop offset="0.7573" stop-color="#74e9d6"/><stop offset="0.8107" stop-color="#8cedb5"/><stop offset="0.9126" stop-color="#9ff2a7"/><stop offset="1" stop-color="#a2f3a4"/></linearGradient><linearGradient id="gb17" gradientUnits="userSpaceOnUse" x1="731.8" y1="0" x2="1246.3" y2="0"><stop offset="0" stop-color="#140080"/><stop offset="0.6311" stop-color="#180182"/><stop offset="0.665" stop-color="#29078e"/><stop offset="0.6796" stop-color="#1c08a0"/><stop offset="0.6942" stop-color="#050db8"/><stop offset="0.7087" stop-color="#072fd5"/><stop offset="0.7282" stop-color="#1276f0"/><stop offset="0.7476" stop-color="#22a5fd"/><stop offset="0.7816" stop-color="#55d6f5"/><stop offset="0.8301" stop-color="#73e9d7"/><stop offset="0.9126" stop-color="#83ebbf"/><stop offset="1" stop-color="#88ecb9"/></linearGradient><linearGradient id="gb18" gradientUnits="userSpaceOnUse" x1="731.8" y1="0" x2="1246.3" y2="0"><stop offset="0" stop-color="#140080"/><stop offset="0.6699" stop-color="#180182"/><stop offset="0.7039" stop-color="#2a0890"/><stop offset="0.733" stop-color="#060ab4"/><stop offset="0.7476" stop-color="#051fcb"/><stop offset="0.7621" stop-color="#0a46e0"/><stop offset="0.7816" stop-color="#137ef3"/><stop offset="0.801" stop-color="#21a4fd"/><stop offset="0.8447" stop-color="#4fd1f6"/><stop offset="0.8883" stop-color="#65e0e7"/><stop offset="1" stop-color="#73e9d7"/></linearGradient><linearGradient id="gb19" gradientUnits="userSpaceOnUse" x1="731.8" y1="0" x2="1246.3" y2="0"><stop offset="0" stop-color="#140080"/><stop offset="0.7039" stop-color="#170181"/><stop offset="0.7476" stop-color="#2a0890"/><stop offset="0.7816" stop-color="#060bb6"/><stop offset="0.801" stop-color="#0628d1"/><stop offset="0.8398" stop-color="#1482f4"/><stop offset="0.8641" stop-color="#21a4fd"/><stop offset="0.9272" stop-color="#46caf9"/><stop offset="1" stop-color="#59d9f3"/></linearGradient><linearGradient id="gb20" gradientUnits="userSpaceOnUse" x1="731.8" y1="0" x2="1246.3" y2="0"><stop offset="0" stop-color="#140080"/><stop offset="0.7476" stop-color="#180182"/><stop offset="0.7913" stop-color="#28078e"/><stop offset="0.8107" stop-color="#1e089e"/><stop offset="0.8301" stop-color="#0609b3"/><stop offset="0.8495" stop-color="#051eca"/><stop offset="0.8786" stop-color="#0c54e5"/><stop offset="0.9078" stop-color="#1482f4"/><stop offset="0.9417" stop-color="#1d9efd"/><stop offset="1" stop-color="#2cb2fe"/></linearGradient><linearGradient id="gb21" gradientUnits="userSpaceOnUse" x1="731.8" y1="0" x2="1246.3" y2="0"><stop offset="0" stop-color="#140080"/><stop offset="0.7961" stop-color="#180182"/><stop offset="0.8447" stop-color="#29088f"/><stop offset="0.8786" stop-color="#0e08ac"/><stop offset="0.8981" stop-color="#0512be"/><stop offset="0.9417" stop-color="#0a45e0"/><stop offset="0.9806" stop-color="#1172ee"/><stop offset="1" stop-color="#137df2"/></linearGradient><linearGradient id="gb22" gradientUnits="userSpaceOnUse" x1="731.8" y1="0" x2="1246.3" y2="0"><stop offset="0" stop-color="#140080"/><stop offset="0.8495" stop-color="#180182"/><stop offset="0.9029" stop-color="#2a0890"/><stop offset="0.9563" stop-color="#060bb6"/><stop offset="1" stop-color="#0629d2"/></linearGradient><linearGradient id="gb23" gradientUnits="userSpaceOnUse" x1="731.8" y1="0" x2="1246.3" y2="0"><stop offset="0" stop-color="#140080"/><stop offset="0.9078" stop-color="#180182"/><stop offset="0.9709" stop-color="#2a0890"/><stop offset="1" stop-color="#1c08a0"/></linearGradient><linearGradient id="gb24" gradientUnits="userSpaceOnUse" x1="731.8" y1="0" x2="1246.3" y2="0"><stop offset="0" stop-color="#140080"/><stop offset="0.9757" stop-color="#180182"/><stop offset="1" stop-color="#1d0384"/></linearGradient><linearGradient id="gb25" gradientUnits="userSpaceOnUse" x1="731.8" y1="0" x2="1246.3" y2="0"><stop offset="0" stop-color="#140080"/><stop offset="1" stop-color="#150080"/></linearGradient><linearGradient id="gb26" gradientUnits="userSpaceOnUse" x1="731.8" y1="0" x2="1246.3" y2="0"><stop offset="0" stop-color="#140080"/><stop offset="1" stop-color="#140080"/></linearGradient><linearGradient id="gb27" gradientUnits="userSpaceOnUse" x1="731.8" y1="0" x2="1246.3" y2="0"><stop offset="0" stop-color="#140080"/><stop offset="1" stop-color="#140080"/></linearGradient><linearGradient id="gb28" gradientUnits="userSpaceOnUse" x1="731.8" y1="0" x2="1246.3" y2="0"><stop offset="0" stop-color="#140080"/><stop offset="1" stop-color="#140080"/></linearGradient><linearGradient id="gb29" gradientUnits="userSpaceOnUse" x1="731.8" y1="0" x2="1246.3" y2="0"><stop offset="0" stop-color="#140080"/><stop offset="1" stop-color="#140080"/></linearGradient><linearGradient id="gb30" gradientUnits="userSpaceOnUse" x1="731.8" y1="0" x2="1246.3" y2="0"><stop offset="0" stop-color="#140080"/><stop offset="1" stop-color="#140080"/></linearGradient><clipPath id="dclip"><rect x="1371.2" y="36.3" width="541.7" height="404.7"/></clipPath><linearGradient id="vglow" x1="0" y1="0" x2="1" y2="0"><stop offset="0" stop-color="#dfe7f6"/><stop offset="0.045" stop-color="#fbfbfe"/><stop offset="0.1" stop-color="#f4f6fc"/><stop offset="0.2" stop-color="#c6d5ee"/><stop offset="0.5" stop-color="#bccfeb"/><stop offset="0.8" stop-color="#c6d5ee"/><stop offset="0.9" stop-color="#f4f6fc"/><stop offset="0.955" stop-color="#fbfbfe"/><stop offset="1" stop-color="#dfe7f6"/></linearGradient><linearGradient id="ftop" gradientUnits="userSpaceOnUse" x1="0" y1="790.9" x2="0" y2="906"><stop offset="0" stop-color="#9cc6e6"/><stop offset="0.05" stop-color="#3f90d0"/><stop offset="0.12" stop-color="#0b70c0"/><stop offset="0.2" stop-color="#4f9ad4"/><stop offset="0.28" stop-color="#ffffff"/><stop offset="0.36" stop-color="#f9d5bc"/><stop offset="0.435" stop-color="#f4b78e"/><stop offset="0.51" stop-color="#f9d5bc"/><stop offset="0.6" stop-color="#ffffff"/><stop offset="0.66" stop-color="#4f9ad4"/><stop offset="0.715" stop-color="#0b70c0"/><stop offset="0.77" stop-color="#4f9ad4"/><stop offset="0.87" stop-color="#ffffff"/><stop offset="0.94" stop-color="#f9d5bc"/><stop offset="1" stop-color="#f4b78e"/></linearGradient><linearGradient id="ffront" gradientUnits="userSpaceOnUse" x1="0" y1="906" x2="0" y2="975.3"><stop offset="0" stop-color="#f4b78e"/><stop offset="0.12" stop-color="#f6c4a2"/><stop offset="0.45" stop-color="#ffffff"/><stop offset="0.55" stop-color="#ffffff"/><stop offset="0.85" stop-color="#2a84ca"/><stop offset="1" stop-color="#0b70c0"/></linearGradient><linearGradient id="fside" gradientUnits="userSpaceOnUse" x1="0.88" y1="0" x2="0.3372" y2="0.1602" spreadMethod="repeat"><stop offset="0" stop-color="#8fbde4"/><stop offset="0.1" stop-color="#c2dbf0"/><stop offset="0.25" stop-color="#fff"/><stop offset="0.4" stop-color="#fbe6d9"/><stop offset="0.5" stop-color="#f6cdb2"/><stop offset="0.6" stop-color="#fbe6d9"/><stop offset="0.75" stop-color="#fff"/><stop offset="0.9" stop-color="#c2dbf0"/><stop offset="1" stop-color="#8fbde4"/></linearGradient><linearGradient id="fsidefade" gradientUnits="userSpaceOnUse" x1="0" y1="0" x2="0" y2="1"><stop offset="0" stop-color="#fff" stop-opacity="0.5"/><stop offset="0.45" stop-color="#fff" stop-opacity="0.62"/><stop offset="1" stop-color="#fff" stop-opacity="0.12"/></linearGradient></defs><rect x="97.5" y="37.5" width="515" height="13.5" fill="url(#ga0)"/><rect x="97.5" y="51" width="515" height="13" fill="url(#ga1)"/><rect x="97.5" y="64" width="515" height="13" fill="url(#ga2)"/><rect x="97.5" y="77" width="515" height="13" fill="url(#ga3)"/><rect x="97.5" y="90" width="515" height="14" fill="url(#ga4)"/><rect x="97.5" y="104" width="515" height="13" fill="url(#ga5)"/><rect x="97.5" y="117" width="515" height="13" fill="url(#ga6)"/><rect x="97.5" y="130" width="515" height="13" fill="url(#ga7)"/><rect x="97.5" y="143" width="515" height="13" fill="url(#ga8)"/><rect x="97.5" y="156" width="515" height="14" fill="url(#ga9)"/><rect x="97.5" y="170" width="515" height="13" fill="url(#ga10)"/><rect x="97.5" y="183" width="515" height="13" fill="url(#ga11)"/><rect x="97.5" y="196" width="515" height="13" fill="url(#ga12)"/><rect x="97.5" y="209" width="515" height="13" fill="url(#ga13)"/><rect x="97.5" y="222" width="515" height="14" fill="url(#ga14)"/><rect x="97.5" y="236" width="515" height="13" fill="url(#ga15)"/><rect x="97.5" y="249" width="515" height="13" fill="url(#ga16)"/><rect x="97.5" y="262" width="515" height="13" fill="url(#ga17)"/><rect x="97.5" y="275" width="515" height="13" fill="url(#ga18)"/><rect x="97.5" y="288" width="515" height="14" fill="url(#ga19)"/><rect x="97.5" y="302" width="515" height="13" fill="url(#ga20)"/><rect x="97.5" y="315" width="515" height="13" fill="url(#ga21)"/><rect x="97.5" y="328" width="515" height="13" fill="url(#ga22)"/><rect x="97.5" y="341" width="515" height="14" fill="url(#ga23)"/><rect x="97.5" y="355" width="515" height="13" fill="url(#ga24)"/><rect x="97.5" y="368" width="515" height="13" fill="url(#ga25)"/><rect x="97.5" y="381" width="515" height="13" fill="url(#ga26)"/><rect x="97.5" y="394" width="515" height="13" fill="url(#ga27)"/><rect x="97.5" y="407" width="515" height="14" fill="url(#ga28)"/><rect x="97.5" y="421" width="515" height="13" fill="url(#ga29)"/><rect x="97.5" y="434" width="515" height="13" fill="url(#ga30)"/><path d="M97.5 37.5H612.5V447" fill="none" stroke="#555" stroke-width="1"/><path d="M97.5 447.4H612.5" fill="none" stroke="#8c8cb4" stroke-width="1.2"/><text transform="translate(7.2,72) scale(0.88,1)" font-size="70" font-weight="bold">a</text><text x="96.3" y="110.2" font-size="38.5" text-anchor="end">0.3</text><text x="96.8" y="222.7" font-size="38.5" text-anchor="end">0.2</text><text x="96.3" y="337.5" font-size="38.5" text-anchor="end">0.1</text><text x="94.6" y="447.7" font-size="38.5" text-anchor="end">0</text><text x="108.5" y="482.5" font-size="38.5" text-anchor="middle">0</text><text x="265" y="480.9" font-size="38.5" text-anchor="middle">4</text><text x="414.4" y="482.9" font-size="38.5" text-anchor="middle">8</text><text x="567.4" y="480.9" font-size="38.5" text-anchor="middle">12</text><text x="315" y="517" font-size="36">B</text><text x="339" y="534" font-size="22">⊥</text><text x="367" y="517" font-size="36">(T)</text><g transform="translate(29.4,331) rotate(-90)"><text x="0" y="0" font-size="38.5">J</text><text x="21" y="10" font-size="26.5">a</text><text x="47" y="0" font-size="38.5">(Amm</text><text x="148.5" y="-12.5" font-size="23">-2</text><text x="169" y="0" font-size="38.5">)</text></g><rect x="150.2" y="246.7" width="34.4" height="138" fill="url(#cb)"/><path d="M150.2 384.7V246.7H184.6" fill="none" stroke="#333" stroke-width="1"/><path d="M150.2 384.7H184.6" fill="none" stroke="#111" stroke-width="1.2"/><rect x="184.4" y="246.4" width="2.4" height="138.6" fill="#fff"/><text x="146.6" y="265.8" font-size="28.5" text-anchor="end" fill="#fff">30</text><text x="146.6" y="389.3" font-size="28.5" text-anchor="end" fill="#fff">0</text><g fill="#fff" stroke="#fff" stroke-width="0.5" font-family="'Liberation Serif', serif" font-style="italic"><text x="122" y="219" font-size="33">V</text><text x="141" y="227" font-size="25">a</text><text x="154" y="219" font-size="33" font-style="normal">(</text><text x="165" y="219" font-size="33">μV</text><text x="202" y="219" font-size="33" font-style="normal">)</text></g><rect x="731.8" y="34.5" width="514.5" height="13.5" fill="url(#gb0)"/><rect x="731.8" y="48" width="514.5" height="13" fill="url(#gb1)"/><rect x="731.8" y="61" width="514.5" height="13" fill="url(#gb2)"/><rect x="731.8" y="74" width="514.5" height="13" fill="url(#gb3)"/><rect x="731.8" y="87" width="514.5" height="14" fill="url(#gb4)"/><rect x="731.8" y="101" width="514.5" height="13" fill="url(#gb5)"/><rect x="731.8" y="114" width="514.5" height="13" fill="url(#gb6)"/><rect x="731.8" y="127" width="514.5" height="13" fill="url(#gb7)"/><rect x="731.8" y="140" width="514.5" height="13" fill="url(#gb8)"/><rect x="731.8" y="153" width="514.5" height="14" fill="url(#gb9)"/><rect x="731.8" y="167" width="514.5" height="13" fill="url(#gb10)"/><rect x="731.8" y="180" width="514.5" height="13" fill="url(#gb11)"/><rect x="731.8" y="193" width="514.5" height="13" fill="url(#gb12)"/><rect x="731.8" y="206" width="514.5" height="13" fill="url(#gb13)"/><rect x="731.8" y="219" width="514.5" height="14" fill="url(#gb14)"/><rect x="731.8" y="233" width="514.5" height="13" fill="url(#gb15)"/><rect x="731.8" y="246" width="514.5" height="13" fill="url(#gb16)"/><rect x="731.8" y="259" width="514.5" height="13" fill="url(#gb17)"/><rect x="731.8" y="272" width="514.5" height="13" fill="url(#gb18)"/><rect x="731.8" y="285" width="514.5" height="14" fill="url(#gb19)"/><rect x="731.8" y="299" width="514.5" height="13" fill="url(#gb20)"/><rect x="731.8" y="312" width="514.5" height="13" fill="url(#gb21)"/><rect x="731.8" y="325" width="514.5" height="13" fill="url(#gb22)"/><rect x="731.8" y="338" width="514.5" height="14" fill="url(#gb23)"/><rect x="731.8" y="352" width="514.5" height="13" fill="url(#gb24)"/><rect x="731.8" y="365" width="514.5" height="13" fill="url(#gb25)"/><rect x="731.8" y="378" width="514.5" height="13" fill="url(#gb26)"/><rect x="731.8" y="391" width="514.5" height="13" fill="url(#gb27)"/><rect x="731.8" y="404" width="514.5" height="14" fill="url(#gb28)"/><rect x="731.8" y="418" width="514.5" height="13" fill="url(#gb29)"/><rect x="731.8" y="431" width="514.5" height="13" fill="url(#gb30)"/><path d="M731.8 34.5H1246.3V444H731.8" fill="none" stroke="#111" stroke-width="1.2"/><text transform="translate(633,71.5) scale(1.0,1)" font-size="66" font-weight="bold">b</text><text x="727.6" y="112.8" font-size="38.5" text-anchor="end">0.3</text><text x="727.8" y="224.6" font-size="38.5" text-anchor="end">0.2</text><text x="727.6" y="337.5" font-size="38.5" text-anchor="end">0.1</text><text x="725.2" y="446.4" font-size="38.5" text-anchor="end">0</text><text x="736.8" y="480.3" font-size="38.5" text-anchor="middle">0</text><text x="892.9" y="480.3" font-size="38.5" text-anchor="middle">4</text><text x="1042.4" y="480.3" font-size="38.5" text-anchor="middle">8</text><text x="1195" y="480.3" font-size="38.5" text-anchor="middle">12</text><text x="933.5" y="517" font-size="36">B</text><text x="956.5" y="526" font-size="26">//</text><text x="986" y="517" font-size="36">(T)</text><g transform="translate(660.4,324.5) rotate(-90)"><text x="0" y="0" font-size="38.5">J</text><text x="21" y="10" font-size="26.5">a</text><text x="47" y="0" font-size="38.5">(Amm</text><text x="148.5" y="-12.5" font-size="23">-2</text><text x="169" y="0" font-size="38.5">)</text></g><rect x="778.3" y="244" width="37" height="141" fill="url(#cb)"/><rect x="778.3" y="244" width="37" height="141" fill="none" stroke="#333" stroke-width="1.2"/><rect x="815.8" y="243.4" width="3.4" height="141.6" fill="#fff"/><text x="777.7" y="267.3" font-size="28" text-anchor="end" fill="#fff">60</text><text x="777.7" y="386" font-size="28" text-anchor="end" fill="#fff">0</text><g fill="#fff" stroke="#fff" stroke-width="0.5" font-family="'Liberation Serif', serif" font-style="italic"><text x="745" y="218" font-size="32">V</text><text x="763" y="226" font-size="24">a</text><text x="776" y="218" font-size="32" font-style="normal">(</text><text x="786.5" y="218" font-size="32">μV</text><text x="823" y="218" font-size="32" font-style="normal">)</text></g><g stroke="#444" stroke-width="2.4" stroke-linejoin="bevel"><path d="M809.3 409.4L913.7 305.4H1149.9L1045.9 409.4Z" fill="#c9dff2"/><path d="M809.3 409.4H1045.9V428.5H809.3Z" fill="#bdd8ee"/><path d="M1045.9 409.4L1149.9 305.4V323.9L1045.9 428.5Z" fill="#9bafc1"/></g><g stroke="#000" stroke-width="3.2" fill="none"><path d="M973 365.3V316"/><path d="M966 325.5L973 314.5L980 325.5" stroke-width="2.8"/><path d="M971.4 363.7H1050"/><path d="M1040 357L1054 363.7L1040 370.7" stroke-width="2.8"/><path d="M973.8 364L946.5 402.5"/></g><path d="M943 407.5L948.5 392.5L952 399.2L959.5 400Z" fill="#000"/><path d="M1054.5 363.7L1040 356L1043.5 363.7L1040 371.5Z" fill="#000"/><path d="M973 313.5L965.5 327L973 323.5L980.5 327Z" fill="#000"/><path d="M972.2 362.6L1006.5 334.2L1003.3 330.3L1024.8 323.6L1013.5 342.8L1010.2 338.8L974.6 365.2Z" fill="#f00"/><path d="M1011.8 361Q1011 351 1006.3 344.5" stroke="#000" stroke-width="2" fill="none"/><path d="M1003.2 339.8L1012.3 345.2L1007.6 346.6L1005.3 351.6Z" fill="#000"/><path d="M1012.2 365L1006.6 355.8L1011.6 357.8L1016.2 355.2Z" fill="#000"/><path d="M1004.6 319a30.7 10 0 1 0 -2 4.5" stroke="#ed7d31" stroke-width="2.8" fill="none"/><path d="M986 322.5L1005 320L996 334" stroke="#ed7d31" stroke-width="2.6" fill="none" stroke-linejoin="miter"/><text x="962" y="300" font-size="38" font-family="'Liberation Serif', serif" font-weight="bold" font-style="italic" fill="#ed7d31">φ</text><text x="920.5" y="326.5" font-size="37">c</text><text x="911.5" y="394.5" font-size="37">a</text><text x="1023.5" y="400.5" font-size="37">b</text><text x="1049" y="333.5" font-size="36" font-weight="bold" fill="#f00">B</text><text x="1026" y="358.5" font-size="37" font-family="'Liberation Serif', serif" font-style="italic">θ</text><path d="M680.2 557.6V948.8" stroke="#707070" stroke-width="1.2"/><path d="M786.1 557.6L790.9 564.1L796.3 570.4M833.1 609.2L838.5 614.4L844.3 619.4L849.6 624.5L854.5 630.6L859.3 635.8L865.1 639.8L870.8 644.9L877.5 652.2L883.0 659.5L889.2 665.3L894.8 670.7L900.4 677.0L907.7 681.3L914.7 684.7L920.2 690.4L925.8 695.0L931.0 701.0L938.3 706.2L944.9 711.2M982.0 745.8L988.9 748.4L996.3 752.2L1003.9 757.8L1010.6 763.5L1017.0 770.6L1022.9 776.7L1029.3 782.9L1035.1 788.0L1043.3 790.0L1051.3 796.0L1059.6 801.2L1066.7 803.8L1073.9 805.3L1082.0 813.5L1092.2 818.6L1099.3 823.4L1105.5 829.2M1153.5 846.1L1159.2 850.4L1165.7 855.3L1175.9 856.3L1184.1 860.0L1191.2 858.4L1200.4 866.1L1208.1 867.3L1214.7 868.6L1221.0 872.6L1226.9 877.1L1234.6 879.8" fill="none" stroke="#3b1b98" stroke-width="1.7" stroke-linejoin="round"/><text transform="translate(813.5,590.5) rotate(43)" x="0" y="6" font-size="17" text-anchor="middle">0.03</text><text transform="translate(962,729.5) rotate(40)" x="0" y="6" font-size="17" text-anchor="middle">0.03</text><text transform="translate(1129,837) rotate(18)" x="0" y="6" font-size="17" text-anchor="middle">0.03</text><path d="M768.8 557.6L774.9 565.9L781.0 574.5L787.0 581.8L793.3 588.8L800.6 596.9L807.6 604.1L813.3 610.4L818.9 616.2L823.9 621.4L829.2 626.1L834.1 631.6L840.2 639.8M856.5 656.1L861.7 662.1L866.5 667.0L870.8 672.4L876.7 677.4L882.0 683.0L890.2 692.9L896.7 697.5L902.4 702.0L907.6 707.9L913.8 715.5L918.8 721.4L923.7 728.4L929.6 734.3L935.1 741.4L941.0 747.1L947.3 752.2L954.9 757.3L961.6 763.5L968.9 767.6L975.9 772.7L982.8 778.1L989.2 783.9M1003.5 799.2L1012.7 806.3L1018.3 813.0L1022.9 818.6L1030.0 825.3L1037.1 830.8L1043.0 835.9L1049.4 842.0L1056.7 848.1L1063.7 855.3L1069.4 859.8L1075.9 864.5L1083.2 869.2L1090.2 874.7L1096.8 877.7L1104.5 879.8L1114.7 883.9L1121.6 890.1L1129.0 895.1L1136.6 900.1L1143.3 905.3L1150.4 908.4M1168.2 918.6L1175.9 922.2L1184.5 923.1" fill="none" stroke="#3c3bd4" stroke-width="1.7" stroke-linejoin="round"/><text transform="translate(848,648.5) rotate(45)" x="0" y="6" font-size="17" text-anchor="middle">1</text><text transform="translate(996.5,791.5) rotate(42)" x="0" y="6" font-size="17" text-anchor="middle">1</text><text transform="translate(1159.5,913) rotate(30)" x="0" y="6" font-size="17" text-anchor="middle">1</text><path d="M758.2 557.6L763.7 566.3M788.8 600.0L793.7 605.1L798.8 610.3L803.5 615.3L808.3 620.9L813.6 626.2L817.8 631.6L823.2 636.6L828.4 640.9L834.1 645.9L840.1 652.7L845.0 658.9L850.4 666.3L855.1 671.9L859.4 677.4L864.7 682.7L870.0 688.6L875.1 695.5L880.0 702.0L886.3 707.5L892.2 713.3L898.4 720.4M927.3 749.0L933.1 755.3L937.4 762.7L941.2 769.6L946.8 775.2L953.5 781.8L959.8 788.0L965.7 793.1L970.5 798.1L975.9 803.3L986.1 810.4L992.4 817.8L998.4 825.7L1008.6 832.9L1013.5 839.3L1018.8 846.1L1023.7 852.9L1029.0 859.4L1038.2 869.0M1069.8 894.1L1076.9 897.1L1084.1 906.3L1094.3 915.5L1102.4 919.6L1110.6 923.1" fill="none" stroke="#4469e8" stroke-width="1.7" stroke-linejoin="round"/><text transform="translate(775,584) rotate(46)" x="0" y="6" font-size="17" text-anchor="middle">1.2</text><text transform="translate(913,735) rotate(43)" x="0" y="6" font-size="17" text-anchor="middle">1.2</text><text transform="translate(1054,882) rotate(38)" x="0" y="6" font-size="17" text-anchor="middle">1.2</text><path d="M744.9 557.6L750.5 565.9L756.5 574.5L760.4 580.6L763.7 588.0L767.0 594.0L770.8 601.0L778.0 606.8L784.0 613.2L791.2 619.4L795.5 625.0L799.2 631.5L803.9 637.7L807.6 643.9L813.5 651.0L818.3 659.0L823.9 666.3L830.5 672.4L836.1 678.6L846.3 686.7L850.6 693.9L855.5 702.0M888.2 741.8L898.4 751.2L902.5 757.0L906.5 763.5L912.0 772.6L916.7 780.8L922.0 788.7L928.0 797.1L935.0 803.4L941.2 809.4L947.7 815.9L953.5 822.7L961.6 832.9L965.3 839.3L969.8 846.1L976.3 854.3L982.0 863.1M1018.8 899.2L1022.7 905.2L1026.9 911.4L1033.3 917.1L1039.8 923.1" fill="none" stroke="#2b8fe3" stroke-width="1.7" stroke-linejoin="round"/><text transform="translate(871,722) rotate(45)" x="0" y="6" font-size="17" text-anchor="middle">1.41</text><text transform="translate(1000,881.5) rotate(42)" x="0" y="6" font-size="17" text-anchor="middle">1.41</text><path d="M707.6 557.6L711.5 564.5L713.8 572.8L717.8 579.6M743.9 623.5L748.6 632.3L752.2 640.4L756.5 648.0L761.8 655.1L766.3 663.3L770.8 670.4L774.4 676.6L777.3 682.5L781.0 688.8L784.8 695.1L789.3 702.1L793.3 709.2L798.4 716.1L803.3 724.4L807.6 731.6L814.7 740.0L821.8 747.1L823.9 754.3M850.0 799.6L854.0 806.7L857.5 813.0L860.6 819.6L864.1 826.7L868.4 833.0L872.9 840.0L877.2 847.5L880.9 855.5L885.1 862.4L891.2 868.6L895.9 875.6L900.4 882.9L905.2 889.9L910.6 896.1L916.7 908.4L922.5 916.1L928.4 923.1" fill="none" stroke="#19a9c6" stroke-width="1.7" stroke-linejoin="round"/><text transform="translate(730,602.5) rotate(52)" x="0" y="6" font-size="17" text-anchor="middle">1.88</text><text transform="translate(836.5,777.5) rotate(52)" x="0" y="6" font-size="17" text-anchor="middle">1.88</text><path d="M680.3 566.3L681.0 576.1L682.0 586.7L683.3 594.7L684.2 602.4L686.3 610.0L687.1 617.3L689.6 624.9L691.4 634.1L693.3 641.8L695.6 651.5L699.0 661.8M715.7 711.2L718.2 718.7L721.1 726.2L723.9 733.7L727.3 740.3L730.0 748.0L736.1 760.4L738.1 766.6L740.7 773.1L744.3 780.7L746.3 786.9L748.4 793.6L751.2 800.0L753.8 807.0L756.5 813.5L759.3 821.5L761.6 829.6L764.7 838.0L766.8 847.4L769.8 856.7M788.8 904.9L794.3 917.6L800.4 923.0" fill="none" stroke="#2db58b" stroke-width="1.6" stroke-linejoin="round"/><text transform="translate(706.5,686) rotate(56)" x="0" y="6" font-size="17" text-anchor="middle">2.26</text><text transform="translate(778,881) rotate(56)" x="0" y="6" font-size="17" text-anchor="middle">2.26</text><path d="M680.3 609.0L681.5 618.0M690.8 666.3L693.2 673.8L694.6 681.2L697.1 689.4L699.4 696.9L701.8 704.4L703.9 712.4L705.5 719.8L707.6 727.6L709.7 735.3L711.8 742.8L714.0 750.0L716.9 757.9L719.8 766.5L722.6 775.6L724.8 784.1L728.0 793.1L730.4 801.0L733.5 807.9L735.5 815.5M752.0 864.5L754.7 872.3L756.1 879.4L758.6 886.9L760.8 894.1L764.2 901.0L766.7 907.3L771.4 915.2L775.3 922.7" fill="none" stroke="#78bf3c" stroke-width="1.6" stroke-linejoin="round"/><text transform="translate(684.5,642) rotate(62)" x="0" y="6" font-size="17" text-anchor="middle">2.35</text><text transform="translate(742,840) rotate(58)" x="0" y="6" font-size="17" text-anchor="middle">2.35</text><path d="M688.8 699.0L690.7 706.7L691.6 714.4L693.1 721.5L695.3 729.6L697.4 737.2L698.3 745.4L700.5 754.0L703.5 766.5L705.6 773.1L706.2 780.8L707.9 787.7L710.2 794.7L711.6 801.2L713.8 808.2L715.2 814.5L716.8 822.0L718.4 828.5L719.8 835.9L722.1 844.1L723.9 851.2M739.2 901.2L742.2 907.1L746.3 913.5L755.5 922.7" fill="none" stroke="#c9a31b" stroke-width="1.6" stroke-linejoin="round"/><text transform="translate(682.5,673.5) rotate(66)" x="0" y="6" font-size="17" text-anchor="middle">2.46</text><text transform="translate(730.5,876) rotate(62)" x="0" y="6" font-size="17" text-anchor="middle">2.46</text><path d="M680.6 690.8L681.4 698.3L681.7 704.7L682.5 712.4L683.5 719.4L684.6 726.4L684.8 733.6L685.6 740.8L686.5 748.0L689.2 760.4L689.9 767.3L692.2 774.2L693.2 780.8L694.3 788.5L695.3 795.1L697.0 802.8L698.3 810.6L700.4 817.6L701.4 825.7L702.6 833.1L705.3 840.0L706.5 847.1M718.8 898.2L722.3 906.1L725.9 913.5L733.7 922.7" fill="none" stroke="#f7c52b" stroke-width="1.6" stroke-linejoin="round"/><text transform="translate(710,873) rotate(67)" x="0" y="6" font-size="17" text-anchor="middle">2.55</text><path d="M673.9 557.6L672.7 565.9L671.8 574.5M670.8 626.5L669.6 633.7L668.7 640.7L667.8 648.0L667.7 656.4L667.2 664.4L667.1 672.4L666.9 680.8L667.0 688.6L666.6 696.6L666.7 705.1L665.1 714.2L663.5 723.5L663.4 731.7L663.7 740.0L663.5 747.6L663.2 755.2L663.3 762.4L661.9 771.7L660.6 780.8M656.1 833.9L655.3 844.3L654.5 854.3L654.4 861.5L654.0 868.7L654.0 875.7L653.5 882.9L650.4 891.0L650.1 899.2L649.6 906.7L649.0 914.9L648.8 922.7M652.8 921.7L654.1 916.5L654.9 922.7" fill="none" stroke="#111" stroke-width="1.1" stroke-linejoin="round"/><text transform="translate(671,601.5) rotate(-88)" x="0" y="6" font-size="17" text-anchor="middle">0.03</text><text transform="translate(658.8,807) rotate(-85)" x="0" y="6" font-size="17" text-anchor="middle">0.03</text><path d="M886.1 557.6V948.8" stroke="#111" stroke-width="2.2" stroke-dasharray="20 6" stroke-dashoffset="9.1"/><text x="905.3" y="593.5" font-size="21.8" fill="#111">Pauli Limit</text><text x="1110.5" y="604.2" font-size="37.5" fill="#111">B // b</text><text x="559.5" y="604.2" font-size="37.5" fill="#111">B // c</text><path d="M168.8 948.8v-11.5M168.8 557.6v11.5M339.2 948.8v-11.5M339.2 557.6v11.5M509.6 948.8v-11.5M509.6 557.6v11.5M680.0 948.8v-11.5M680.0 557.6v11.5M850.4 948.8v-11.5M850.4 557.6v11.5M1020.8 948.8v-11.5M1020.8 557.6v11.5M1191.2 948.8v-11.5M1191.2 557.6v11.5M126.1 837.0h11.5M1234.6 837.0h-11.5M126.1 725.3h11.5M1234.6 725.3h-11.5M126.1 613.5h11.5M1234.6 613.5h-11.5" stroke="#262626" stroke-width="1.3" fill="none"/><rect x="126.1" y="557.6" width="1108.5" height="391.2" fill="none" stroke="#262626" stroke-width="1.4"/><g fill="#262626" font-size="30"><text x="168.8" y="987.8" font-size="30.3" text-anchor="middle">12</text><text x="339.2" y="987.8" font-size="30.3" text-anchor="middle">8</text><text x="509.6" y="987.8" font-size="30.3" text-anchor="middle">4</text><text x="680" y="987.8" font-size="30.3" text-anchor="middle">0</text><text x="850.4" y="987.8" font-size="30.3" text-anchor="middle">4</text><text x="1020.8" y="987.8" font-size="30.3" text-anchor="middle">8</text><text x="1191.2" y="987.8" font-size="30.3" text-anchor="middle">12</text><text x="115.2" y="959.4" font-size="30.5" text-anchor="end">0</text><text x="115.2" y="847.6" font-size="30.5" text-anchor="end">0.1</text><text x="115.2" y="735.9" font-size="30.5" text-anchor="end">0.2</text><text x="115.2" y="624.1" font-size="30.5" text-anchor="end">0.3</text><text x="679.8" y="1023.3" font-size="30.5" text-anchor="middle">B (T)</text><g transform="translate(53.5,846.5) rotate(-90)"><text x="0" y="0" font-size="33">J</text><text x="18" y="10" font-size="26">a</text><text x="42" y="0" font-size="33">(A mm</text><text x="140" y="-13" font-size="26">-2</text><text x="164" y="0" font-size="33">)</text></g></g><text transform="translate(8.3,576.5) scale(0.94,1)" font-size="70" font-weight="bold">c</text><rect x="227.7" y="616.6" width="319.4" height="239.6" fill="#fff"/><path d="M227.7 856.2v-3.4M227.7 616.6v3.4M227.7 856.2h3.4M547.1 856.2h-3.4M334.2 856.2v-3.4M334.2 616.6v3.4M227.7 776.3h3.4M547.1 776.3h-3.4M440.6 856.2v-3.4M440.6 616.6v3.4M227.7 696.5h3.4M547.1 696.5h-3.4M547.1 856.2v-3.4M547.1 616.6v3.4M227.7 616.6h3.4M547.1 616.6h-3.4" stroke="#262626" stroke-width="1.1" fill="none"/><rect x="227.7" y="616.6" width="319.4" height="239.6" fill="none" stroke="#262626" stroke-width="1.3"/><path d="M227.7 856.2L238.3 856.2L249.0 856.2L259.6 856.2L270.3 856.2L280.9 856.2L291.6 856.2L302.2 856.2L312.9 856.2L323.5 856.2L334.2 856.2L344.8 856.2L355.5 856.2L366.1 856.2L376.8 856.2L387.4 856.2L398.0 856.2L408.7 856.2L419.3 856.2L430.0 856.2L440.6 856.2L451.3 856.2L461.9 856.2L472.6 856.2L483.2 856.2L493.9 856.2L504.5 856.2L515.2 856.2L525.8 856.2L536.5 856.2L547.1 856.2" fill="none" stroke="#0072bd" stroke-width="1.5"/><g fill="#0072bd"><circle cx="227.7" cy="856.2" r="5.5"/><circle cx="238.3" cy="856.2" r="5.5"/><circle cx="249.0" cy="856.2" r="5.5"/><circle cx="259.6" cy="856.2" r="5.5"/><circle cx="270.3" cy="856.2" r="5.5"/><circle cx="280.9" cy="856.2" r="5.5"/><circle cx="291.6" cy="856.2" r="5.5"/><circle cx="302.2" cy="856.2" r="5.5"/><circle cx="312.9" cy="856.2" r="5.5"/><circle cx="323.5" cy="856.2" r="5.5"/><circle cx="334.2" cy="856.2" r="5.5"/><circle cx="344.8" cy="856.2" r="5.5"/><circle cx="355.5" cy="856.2" r="5.5"/><circle cx="366.1" cy="856.2" r="5.5"/><circle cx="376.8" cy="856.2" r="5.5"/><circle cx="387.4" cy="856.2" r="5.5"/><circle cx="398.0" cy="856.2" r="5.5"/><circle cx="408.7" cy="856.2" r="5.5"/><circle cx="419.3" cy="856.2" r="5.5"/><circle cx="430.0" cy="856.2" r="5.5"/><circle cx="440.6" cy="856.2" r="5.5"/><circle cx="451.3" cy="856.2" r="5.5"/><circle cx="461.9" cy="856.2" r="5.5"/><circle cx="472.6" cy="856.2" r="5.5"/><circle cx="483.2" cy="856.2" r="5.5"/><circle cx="493.9" cy="856.2" r="5.5"/><circle cx="504.5" cy="856.2" r="5.5"/><circle cx="515.2" cy="856.2" r="5.5"/><circle cx="525.8" cy="856.2" r="5.5"/><circle cx="536.5" cy="856.2" r="5.5"/><circle cx="547.1" cy="856.2" r="5.5"/></g><path d="M227.7 856.2L238.3 856.2L249.0 856.2L259.6 856.2L270.3 856.2L280.9 856.2L291.6 856.2L302.2 856.2L312.9 856.2L323.5 856.2L334.2 856.2L344.8 856.2L355.5 856.2L366.1 856.2L376.8 856.2L387.4 856.2L398.0 856.2L408.7 856.2L419.3 854.6L430.0 839.2L440.6 813.4L451.3 787.2L461.9 766.7L472.6 751.2L483.2 738.0L493.9 727.6L504.5 717.6L515.2 708.4L525.8 699.2L536.5 690.5L547.1 682.9" fill="none" stroke="#d95319" stroke-width="1.5"/><g fill="#d95319"><circle cx="227.7" cy="856.2" r="5.5"/><circle cx="238.3" cy="856.2" r="5.5"/><circle cx="249.0" cy="856.2" r="5.5"/><circle cx="259.6" cy="856.2" r="5.5"/><circle cx="270.3" cy="856.2" r="5.5"/><circle cx="280.9" cy="856.2" r="5.5"/><circle cx="291.6" cy="856.2" r="5.5"/><circle cx="302.2" cy="856.2" r="5.5"/><circle cx="312.9" cy="856.2" r="5.5"/><circle cx="323.5" cy="856.2" r="5.5"/><circle cx="334.2" cy="856.2" r="5.5"/><circle cx="344.8" cy="856.2" r="5.5"/><circle cx="355.5" cy="856.2" r="5.5"/><circle cx="366.1" cy="856.2" r="5.5"/><circle cx="376.8" cy="856.2" r="5.5"/><circle cx="387.4" cy="856.2" r="5.5"/><circle cx="398.0" cy="856.2" r="5.5"/><circle cx="408.7" cy="856.2" r="5.5"/><circle cx="419.3" cy="854.6" r="5.5"/><circle cx="430.0" cy="839.2" r="5.5"/><circle cx="440.6" cy="813.4" r="5.5"/><circle cx="451.3" cy="787.2" r="5.5"/><circle cx="461.9" cy="766.7" r="5.5"/><circle cx="472.6" cy="751.2" r="5.5"/><circle cx="483.2" cy="738.0" r="5.5"/><circle cx="493.9" cy="727.6" r="5.5"/><circle cx="504.5" cy="717.6" r="5.5"/><circle cx="515.2" cy="708.4" r="5.5"/><circle cx="525.8" cy="699.2" r="5.5"/><circle cx="536.5" cy="690.5" r="5.5"/><circle cx="547.1" cy="682.9" r="5.5"/></g><path d="M227.7 856.2L238.3 850.9L249.0 845.5L259.6 840.0L270.3 834.4L280.9 828.7L291.6 823.0L302.2 817.1L312.9 811.2L323.5 805.2L334.2 799.1L344.8 792.9L355.5 786.6L366.1 780.3L376.8 773.8L387.4 767.2L398.0 760.6L408.7 753.9L419.3 747.1L430.0 740.2L440.6 733.2L451.3 726.1L461.9 719.0L472.6 711.7L483.2 704.4L493.9 697.0L504.5 689.5L515.2 681.9L525.8 674.2L536.5 666.4L547.1 658.5" fill="none" stroke="#edb120" stroke-width="1.5"/><g fill="#edb120"><circle cx="227.7" cy="856.2" r="5.5"/><circle cx="238.3" cy="850.9" r="5.5"/><circle cx="249.0" cy="845.5" r="5.5"/><circle cx="259.6" cy="840.0" r="5.5"/><circle cx="270.3" cy="834.4" r="5.5"/><circle cx="280.9" cy="828.7" r="5.5"/><circle cx="291.6" cy="823.0" r="5.5"/><circle cx="302.2" cy="817.1" r="5.5"/><circle cx="312.9" cy="811.2" r="5.5"/><circle cx="323.5" cy="805.2" r="5.5"/><circle cx="334.2" cy="799.1" r="5.5"/><circle cx="344.8" cy="792.9" r="5.5"/><circle cx="355.5" cy="786.6" r="5.5"/><circle cx="366.1" cy="780.3" r="5.5"/><circle cx="376.8" cy="773.8" r="5.5"/><circle cx="387.4" cy="767.2" r="5.5"/><circle cx="398.0" cy="760.6" r="5.5"/><circle cx="408.7" cy="753.9" r="5.5"/><circle cx="419.3" cy="747.1" r="5.5"/><circle cx="430.0" cy="740.2" r="5.5"/><circle cx="440.6" cy="733.2" r="5.5"/><circle cx="451.3" cy="726.1" r="5.5"/><circle cx="461.9" cy="719.0" r="5.5"/><circle cx="472.6" cy="711.7" r="5.5"/><circle cx="483.2" cy="704.4" r="5.5"/><circle cx="493.9" cy="697.0" r="5.5"/><circle cx="504.5" cy="689.5" r="5.5"/><circle cx="515.2" cy="681.9" r="5.5"/><circle cx="525.8" cy="674.2" r="5.5"/><circle cx="536.5" cy="666.4" r="5.5"/><circle cx="547.1" cy="658.5" r="5.5"/></g><g fill="#262626"><text x="227.7" y="890.6" font-size="23.5" text-anchor="middle">0</text><text x="216.8" y="866.6" font-size="23.5" text-anchor="end">0</text><text x="334.2" y="890.6" font-size="23.5" text-anchor="middle">1</text><text x="216.8" y="786.7" font-size="23.5" text-anchor="end">10</text><text x="440.6" y="890.6" font-size="23.5" text-anchor="middle">2</text><text x="216.8" y="706.9" font-size="23.5" text-anchor="end">20</text><text x="547.1" y="890.6" font-size="23.5" text-anchor="middle">3</text><text x="216.8" y="627" font-size="23.5" text-anchor="end">30</text><text x="387" y="918.3" font-size="21" text-anchor="middle">I (mA)</text><g transform="translate(178,768.6) rotate(-90)"><text x="0" y="0" font-size="21">V (<tspan font-style="italic" font-family="'Liberation Serif', serif" font-size="23">μ</tspan>V)</text></g><path d="M255.2 650.6H311.4" stroke="#0072bd" stroke-width="1.7"/><circle cx="283.2" cy="650.6" r="5.6" fill="#0072bd"/><text x="317" y="654.7" font-size="18.2">B<tspan dy="9.6" font-size="15">c</tspan><tspan dy="-9.6"> = 0.0 T</tspan></text><path d="M255.2 688.6H311.4" stroke="#d95319" stroke-width="1.7"/><circle cx="283.2" cy="688.6" r="5.6" fill="#d95319"/><text x="317" y="692.7" font-size="18.2">B<tspan dy="9.6" font-size="15">c</tspan><tspan dy="-9.6"> = 0.4 T</tspan></text><path d="M255.2 726.6H311.4" stroke="#edb120" stroke-width="1.7"/><circle cx="283.2" cy="726.6" r="5.6" fill="#edb120"/><text x="317" y="730.7" font-size="18.2">B<tspan dy="9.6" font-size="15">c</tspan><tspan dy="-9.6"> = 2.0 T</tspan></text></g><path d="M1442.1 362.8L1443.7 359.3L1446.0 358.3L1447.9 359.3L1449.5 357.7L1450.7 355.8L1453.7 352.1L1454.4 352.0L1457.3 347.4L1458.2 345.9L1459.3 341.9L1461.5 340.7L1462.9 343.0L1465.8 340.2L1467.2 339.1L1468.6 334.6L1469.8 333.2L1471.8 334.1L1473.9 328.6L1475.9 328.8L1477.1 326.0L1479.5 322.1L1481.1 323.3L1483.3 319.7L1484.1 316.5L1485.5 313.0L1488.3 314.2L1489.6 313.6L1491.6 312.2L1493.2 306.0L1494.5 303.2L1496.7 302.1L1498.3 300.6L1500.8 297.0L1502.1 296.9L1503.9 297.0L1506.1 291.5L1506.7 288.3L1509.0 288.6L1510.4 288.4L1511.6 285.3L1514.4 283.6L1515.3 281.0L1518.0 277.2L1519.1 276.6L1521.5 271.7L1523.3 267.8L1524.3 268.5L1526.8 265.7L1527.3 260.0L1529.2 262.1L1531.3 259.4L1532.7 255.0L1534.7 255.9L1536.7 251.4L1538.6 245.7L1540.2 245.8L1541.1 242.5L1544.0 238.8L1545.7 236.6L1546.8 236.9L1548.9 236.1L1549.8 234.0L1551.7 230.7L1553.2 227.6L1555.1 227.1L1557.2 224.2L1559.8 222.2L1560.3 216.5L1562.4 216.2L1563.8 213.3L1566.9 208.2L1567.8 208.1L1568.9 207.9L1570.9 204.2L1572.5 199.2L1575.5 201.5L1576.0 196.5L1577.5 194.2L1580.8 192.1L1582.1 188.1L1583.3 189.4L1585.7 187.9L1587.4 183.8L1588.3 182.9L1591.2 178.3L1592.7 176.1L1594.3 174.5L1595.7 176.0L1596.6 173.5L1598.8 173.6L1601.2 170.6L1602.5 165.0L1605.1 163.6L1605.9 162.0L1607.4 164.7L1609.1 163.4L1612.0 159.7L1613.0 157.2L1615.3 157.0L1616.8 159.1L1618.7 149.7L1620.0 145.7L1622.2 144.0L1624.0 138.2L1625.0 129.6L1627.7 127.7L1628.2 120.8L1629.9 119.0L1632.7 109.4L1634.4 108.4L1635.9 98.3L1637.5 96.5L1638.3 92.3L1641.1 82.0L1643.3 82.4L1644.9 88.5L1645.6 91.7L1647.5 100.4L1649.7 105.8L1651.2 111.0L1653.7 117.0L1654.7 121.0L1657.2 124.8L1658.9 130.8L1660.0 135.4L1660.9 140.2L1662.9 145.6L1665.7 153.0L1666.9 156.8L1668.8 156.2L1670.4 159.6L1672.6 159.6L1674.0 163.4L1675.3 164.0L1677.4 162.5L1679.5 165.1L1680.7 164.7L1682.6 168.0L1684.6 170.2L1686.1 172.3L1688.5 173.9L1690.1 174.4L1690.9 174.9L1693.7 179.0L1694.1 179.3L1696.4 185.4L1697.8 187.7L1700.2 189.7L1702.3 187.8L1703.8 193.4L1704.6 192.7L1707.7 193.6L1709.4 199.6L1710.4 200.8L1712.7 199.7L1713.7 206.6L1715.3 206.9L1717.0 211.0L1718.3 210.4L1720.7 213.7L1722.3 219.0L1724.3 218.0L1726.8 223.5L1728.5 221.8L1729.1 228.0L1731.7 230.8L1732.4 231.9L1735.4 233.4L1736.1 233.6L1738.9 239.8L1740.3 239.8L1740.9 244.9L1743.3 243.9L1745.9 249.8L1747.4 249.0L1749.2 254.5L1750.9 257.0L1751.8 257.2L1754.5 259.0L1755.0 263.0L1756.9 263.9L1758.5 268.6L1760.3 271.3L1762.2 272.1L1763.9 271.9L1765.5 275.7L1767.0 278.9L1768.7 281.7L1771.3 281.2L1772.9 286.6L1774.1 284.6L1776.3 287.5L1778.7 291.5L1779.9 294.3L1782.4 294.9L1783.9 299.0L1785.3 299.1L1786.6 303.0L1788.0 307.1L1790.7 309.1L1791.5 310.1L1794.4 313.2L1795.8 310.8L1796.9 316.2L1799.0 318.2L1800.7 321.0L1803.3 322.4L1804.3 320.4L1806.7 326.5L1807.5 328.1L1809.3 331.7L1811.2 331.0L1812.9 334.5L1814.3 337.5L1816.2 338.9L1817.4 341.0L1819.4 341.4L1821.7 341.6L1823.6 342.5L1825.7 344.5L1826.6 348.1L1828.0 346.5L1830.5 349.7L1832.6 355.3L1834.0 352.2L1836.0 354.8L1837.3 359.9L1839.5 359.5L1841.3 359.5L1843.1 362.4" fill="none" stroke="#5b7fb6" stroke-width="9.6" stroke-linecap="round" stroke-linejoin="round"/><path d="M1425.4 444.7L1428.1 442.8L1430.8 440.8L1433.5 438.8L1436.2 436.8L1438.9 434.7L1441.6 432.6L1444.3 430.5L1447.0 428.3L1449.7 426.0L1452.5 423.8L1455.2 421.5L1457.9 419.1L1460.6 416.7L1463.3 414.3L1466.0 411.8L1468.7 409.2L1471.4 406.7L1474.1 404.0L1476.8 401.4L1479.5 398.6L1482.2 395.8L1485.0 393.0L1487.7 390.1L1490.4 387.1L1493.1 384.1L1495.8 381.1L1498.5 377.9L1501.2 374.7L1503.9 371.5L1506.6 368.2L1509.3 364.8L1512.0 361.3L1514.8 357.8L1517.5 354.2L1520.2 350.5L1522.9 346.8L1525.6 343.0L1528.3 339.1L1531.0 335.1L1533.7 331.0L1536.4 326.9L1539.1 322.7L1541.8 318.4L1544.5 314.0L1547.3 309.5L1550.0 304.9L1552.7 300.2L1555.4 295.5L1558.1 290.6L1560.8 285.6L1563.5 280.6L1566.2 275.4L1568.9 270.1L1571.6 264.8L1574.3 259.3L1577.0 253.7L1579.8 248.0L1582.5 242.2L1585.2 236.2L1587.9 230.2L1590.6 224.0L1593.3 217.8L1596.0 211.4L1598.7 204.8L1601.4 198.2L1604.1 191.4L1606.8 184.5L1609.5 177.5L1612.3 170.3L1615.0 163.0L1617.7 155.6L1620.4 148.1L1623.1 140.4L1625.8 132.6L1628.5 124.6L1631.2 116.5L1633.9 108.3L1636.6 100.0L1639.3 91.5L1642.0 82.8L1644.8 91.5L1647.5 100.0L1650.2 108.3L1652.9 116.5L1655.6 124.6L1658.3 132.6L1661.0 140.4L1663.7 148.1L1666.4 155.6L1669.1 163.0L1671.8 170.3L1674.6 177.5L1677.3 184.5L1680.0 191.4L1682.7 198.2L1685.4 204.8L1688.1 211.4L1690.8 217.8L1693.5 224.0L1696.2 230.2L1698.9 236.2L1701.6 242.2L1704.3 248.0L1707.1 253.7L1709.8 259.3L1712.5 264.8L1715.2 270.1L1717.9 275.4L1720.6 280.6L1723.3 285.6L1726.0 290.6L1728.7 295.5L1731.4 300.2L1734.1 304.9L1736.8 309.5L1739.6 314.0L1742.3 318.4L1745.0 322.7L1747.7 326.9L1750.4 331.0L1753.1 335.1L1755.8 339.1L1758.5 343.0L1761.2 346.8L1763.9 350.5L1766.6 354.2L1769.3 357.8L1772.1 361.3L1774.8 364.8L1777.5 368.2L1780.2 371.5L1782.9 374.7L1785.6 377.9L1788.3 381.1L1791.0 384.1L1793.7 387.1L1796.4 390.1L1799.1 393.0L1801.9 395.8L1804.6 398.6L1807.3 401.4L1810.0 404.0L1812.7 406.7L1815.4 409.2L1818.1 411.8L1820.8 414.3L1823.5 416.7L1826.2 419.1L1828.9 421.5L1831.6 423.8L1834.4 426.0L1837.1 428.3L1839.8 430.5L1842.5 432.6L1845.2 434.7L1847.9 436.8L1850.6 438.8L1853.3 440.8L1856.0 442.8L1858.7 444.7" fill="none" stroke="#f00" stroke-width="2.5" clip-path="url(#dclip)"/><path d="M1398.3 400.5L1402.3 397.5L1406.4 394.3L1410.5 391.1L1414.5 387.8L1418.6 384.5L1422.7 381.1L1426.7 377.6L1430.8 374.0L1434.8 370.3L1438.9 366.6L1443.0 362.8L1447.0 358.9L1451.1 354.9L1455.2 350.8L1459.2 346.7L1463.3 342.4L1467.4 338.1L1471.4 333.7L1475.5 329.2L1479.5 324.6L1483.6 319.9L1487.7 315.2L1491.7 310.3L1495.8 305.4L1499.9 300.4L1503.9 295.3L1508.0 290.1L1512.0 284.9L1516.1 279.6L1520.2 274.2L1524.2 268.7L1528.3 263.2L1532.4 257.7L1536.4 252.1L1540.5 246.5L1544.5 240.9L1548.6 235.3L1552.7 229.7L1556.7 224.1L1560.8 218.5L1564.9 213.1L1568.9 207.7L1573.0 202.4L1577.0 197.2L1581.1 192.2L1585.2 187.3L1589.2 182.6L1593.3 178.1L1597.4 173.9L1601.4 170.0L1605.5 166.3L1609.5 162.9L1613.6 159.9L1617.7 157.2L1621.7 154.9L1625.8 153.0L1629.9 151.6L1633.9 150.5L1638.0 149.8L1642.1 149.6L1646.1 149.8L1650.2 150.5L1654.2 151.6L1658.3 153.0L1662.4 154.9L1666.4 157.2L1670.5 159.9L1674.6 162.9L1678.6 166.3L1682.7 170.0L1686.7 173.9L1690.8 178.1L1694.9 182.6L1698.9 187.3L1703.0 192.2L1707.1 197.2L1711.1 202.4L1715.2 207.7L1719.2 213.1L1723.3 218.5L1727.4 224.1L1731.4 229.7L1735.5 235.3L1739.6 240.9L1743.6 246.5L1747.7 252.1L1751.7 257.7L1755.8 263.2L1759.9 268.7L1763.9 274.2L1768.0 279.6L1772.1 284.9L1776.1 290.1L1780.2 295.3L1784.2 300.4L1788.3 305.4L1792.4 310.3L1796.4 315.2L1800.5 319.9L1804.6 324.6L1808.6 329.2L1812.7 333.7L1816.7 338.1L1820.8 342.4L1824.9 346.7L1828.9 350.8L1833.0 354.9L1837.1 358.9L1841.1 362.8L1845.2 366.6L1849.3 370.3L1853.3 374.0L1857.4 377.6L1861.4 381.1L1865.5 384.5L1869.6 387.8L1873.6 391.1L1877.7 394.3L1881.8 397.5L1885.8 400.5" fill="none" stroke="#000" stroke-width="2.4"/><path d="M1642.1 36.3V441" stroke="#000" stroke-width="1.5"/><path d="M1618.5 36V441" stroke="#000" stroke-width="3.1" stroke-dasharray="22.6 7.6"/><path d="M1670.7 33V441" stroke="#000" stroke-width="3.1" stroke-dasharray="22.6 7.6"/><path d="M1398.3 441.0v-5.2M1398.3 36.3v5.2M1425.4 441.0v-5.2M1425.4 36.3v5.2M1452.5 441.0v-5.2M1452.5 36.3v5.2M1479.5 441.0v-5.2M1479.5 36.3v5.2M1506.6 441.0v-7.5M1506.6 36.3v7.5M1533.7 441.0v-5.2M1533.7 36.3v5.2M1560.8 441.0v-5.2M1560.8 36.3v5.2M1587.9 441.0v-5.2M1587.9 36.3v5.2M1615.0 441.0v-5.2M1615.0 36.3v5.2M1642.1 441.0v-7.5M1642.1 36.3v7.5M1669.1 441.0v-5.2M1669.1 36.3v5.2M1696.2 441.0v-5.2M1696.2 36.3v5.2M1723.3 441.0v-5.2M1723.3 36.3v5.2M1750.4 441.0v-5.2M1750.4 36.3v5.2M1777.5 441.0v-7.5M1777.5 36.3v7.5M1804.6 441.0v-5.2M1804.6 36.3v5.2M1831.6 441.0v-5.2M1831.6 36.3v5.2M1858.7 441.0v-5.2M1858.7 36.3v5.2M1885.8 441.0v-5.2M1885.8 36.3v5.2M1371.2 420.8h5.2M1912.9 420.8h-5.2M1371.2 400.5h7.5M1912.9 400.5h-7.5M1371.2 380.3h5.2M1912.9 380.3h-5.2M1371.2 360.1h5.2M1912.9 360.1h-5.2M1371.2 339.8h5.2M1912.9 339.8h-5.2M1371.2 319.6h7.5M1912.9 319.6h-7.5M1371.2 299.4h5.2M1912.9 299.4h-5.2M1371.2 279.1h5.2M1912.9 279.1h-5.2M1371.2 258.9h5.2M1912.9 258.9h-5.2M1371.2 238.7h7.5M1912.9 238.7h-7.5M1371.2 218.4h5.2M1912.9 218.4h-5.2M1371.2 198.2h5.2M1912.9 198.2h-5.2M1371.2 177.9h5.2M1912.9 177.9h-5.2M1371.2 157.7h7.5M1912.9 157.7h-7.5M1371.2 137.5h5.2M1912.9 137.5h-5.2M1371.2 117.2h5.2M1912.9 117.2h-5.2M1371.2 97.0h5.2M1912.9 97.0h-5.2M1371.2 76.8h7.5M1912.9 76.8h-7.5M1371.2 56.5h5.2M1912.9 56.5h-5.2" stroke="#000" stroke-width="1.7" fill="none"/><rect x="1371.2" y="36.3" width="541.7" height="404.7" fill="none" stroke="#000" stroke-width="2"/><text transform="translate(1274,80) scale(1.0,1)" font-size="66.5" font-weight="bold">d</text><text x="1347.8" y="92.8" font-size="38.5" text-anchor="middle">14</text><text x="1347.8" y="173.7" font-size="38.5" text-anchor="middle">12</text><text x="1347.8" y="254.7" font-size="38.5" text-anchor="middle">10</text><text x="1347.8" y="335.6" font-size="38.5" text-anchor="middle">8</text><text x="1347.8" y="416.5" font-size="38.5" text-anchor="middle">6</text><text x="1372.5" y="480" font-size="38.5" text-anchor="middle">-10</text><text x="1510.2" y="480" font-size="38.5" text-anchor="middle">-5</text><text x="1642.1" y="480" font-size="38.5" text-anchor="middle">0</text><text x="1778.5" y="480" font-size="38.5" text-anchor="middle">5</text><text x="1918.2" y="480" font-size="38.5" text-anchor="middle">10</text><text x="1580" y="512.8" font-size="40" font-family="'Liberation Serif', serif" font-style="italic">θ</text><text x="1612" y="512.6" font-size="39.5">(deg)</text><g transform="translate(1306,271.5) rotate(-90)"><text x="0" y="0" font-size="39.5" word-spacing="-2">B (T)</text></g><text x="1470.9" y="90.3" font-size="32.5" text-anchor="middle" word-spacing="-3">100 mK</text><text x="1469.9" y="128.9" font-size="32.5" text-anchor="middle">0.22 mA</text><path d="M1692.3 72.6H1748.3" stroke="#f00" stroke-width="2.9"/><path d="M1692.3 105.3H1748.3" stroke="#000" stroke-width="2.9"/><text x="1755" y="79.3" font-size="31.5" font-family="'Liberation Serif', serif">Tinkham</text><text x="1753.5" y="114.3" font-size="31.5" font-family="'Liberation Serif', serif">G-L</text><g font-family="'Liberation Serif', serif" font-size="34"><text x="1605.7" y="21.6" font-style="italic">q</text><text x="1635.9" y="26.6" font-size="41" stroke="#000" stroke-width="0.7">≠</text><text x="1669" y="21.6">0</text><text x="1452.3" y="241.4" font-style="italic">q</text><text x="1482.5" y="245.4" font-size="41" stroke="#000" stroke-width="0.7">=</text><text x="1515.6" y="241.4">0</text><text x="1760.3" y="241.4" font-style="italic">q</text><text x="1790.5" y="245.4" font-size="41" stroke="#000" stroke-width="0.7">=</text><text x="1823.6" y="241.4">0</text></g><g stroke="#14274f" stroke-width="2.2" stroke-linejoin="round"><path d="M1322.3 700.4L1531.8 584.6H1925L1715.5 700.4Z" fill="#7ab3df"/><path d="M1715.5 700.4L1925 584.6V655L1715.5 769Z" fill="#b2d5ee"/><path d="M1322.3 700.4H1715.5V769H1322.3Z" fill="#b4d6ee"/></g><ellipse cx="1723.1" cy="692.8" rx="82.6" ry="22" fill="#a9bfe3" fill-opacity="0.85" stroke="#7030a0" stroke-width="1.5" stroke-dasharray="6 3.4"/><ellipse cx="1723.1" cy="692.8" rx="66" ry="16.6" fill="#7aa6d9" stroke="#0070c0" stroke-width="1.5" stroke-dasharray="6 3.4"/><ellipse cx="1723.1" cy="689.5" rx="49.9" ry="12.3" fill="#79a9b9" stroke="#70ad47" stroke-width="1.3" stroke-dasharray="6 3.4"/><ellipse cx="1723.1" cy="674.6" rx="33" ry="8.3" fill="#dcdc9c" fill-opacity="0.55" stroke="#ffc000" stroke-width="1.4" stroke-dasharray="5 3"/><path d="M1689.1 675.6a36 8 0 0 1 68 0" fill="none" stroke="#92d050" stroke-width="1" stroke-dasharray="4 2.5"/><rect x="1720.3" y="683.3" width="6" height="23.2" fill="#1c3f5c"/><rect x="1720.3" y="700.5" width="6" height="6" fill="#10285a"/><ellipse cx="1723.1" cy="613.8" rx="82.6" ry="20.8" fill="url(#vglow)" stroke="#7030a0" stroke-width="1.5" stroke-dasharray="6 3.4"/><ellipse cx="1723.1" cy="614.8" rx="66" ry="18" fill="#a8c3e6" stroke="#0070c0" stroke-width="1.5" stroke-dasharray="6 3.4"/><ellipse cx="1723.1" cy="618.8" rx="49.8" ry="11.7" fill="#9dc0c5" stroke="#70ad47" stroke-width="1.3" stroke-dasharray="6 3.4"/><ellipse cx="1724.1" cy="631.5" rx="33.2" ry="8" fill="#e6e6a6" fill-opacity="0.55" stroke="#ffc000" stroke-width="1.4" stroke-dasharray="5 3"/><rect x="1719.7" y="585.6" width="7" height="42.4" fill="#000"/><rect x="1720" y="628" width="6.4" height="12" fill="#4a6a50"/><ellipse cx="1723.1" cy="643" rx="16.6" ry="6" fill="#e8414c" stroke="#ff2a1a" stroke-width="1" stroke-dasharray="3 2"/><rect x="1720" y="648" width="6.4" height="12.6" fill="#000"/><ellipse cx="1723.1" cy="663.6" rx="16.3" ry="4.4" fill="#e8414c" stroke="#ff2a1a" stroke-width="1" stroke-dasharray="3 2"/><rect x="1720" y="644" width="6.4" height="9" fill="#c4121f"/><rect x="1720" y="660.6" width="6.4" height="5" fill="#c4121f"/><path d="M1695.1 636a30 6 0 0 0 56 0" fill="none" stroke="#ffc000" stroke-width="1.1" stroke-dasharray="4 2.5"/><path d="M1724.1 556.5L1739.3 586.6H1708.9Z" fill="#000"/><ellipse cx="1512.1" cy="741.2" rx="82.6" ry="22" fill="#a9bfe3" fill-opacity="0.85" stroke="#7030a0" stroke-width="1.5" stroke-dasharray="6 3.4"/><ellipse cx="1512.1" cy="741.2" rx="66" ry="16.6" fill="#7aa6d9" stroke="#0070c0" stroke-width="1.5" stroke-dasharray="6 3.4"/><ellipse cx="1512.1" cy="737.9" rx="49.9" ry="12.3" fill="#79a9b9" stroke="#70ad47" stroke-width="1.3" stroke-dasharray="6 3.4"/><ellipse cx="1512.1" cy="723.3" rx="33" ry="8.3" fill="#dcdc9c" fill-opacity="0.55" stroke="#ffc000" stroke-width="1.4" stroke-dasharray="5 3"/><path d="M1478.1 724.3a36 8 0 0 1 68 0" fill="none" stroke="#92d050" stroke-width="1" stroke-dasharray="4 2.5"/><rect x="1509.3" y="731.7" width="6" height="24.8" fill="#1c3f5c"/><rect x="1509.3" y="750.5" width="6" height="6" fill="#10285a"/><ellipse cx="1512.1" cy="662.4" rx="82.6" ry="20.8" fill="url(#vglow)" stroke="#7030a0" stroke-width="1.5" stroke-dasharray="6 3.4"/><ellipse cx="1512.1" cy="663.4" rx="66" ry="18" fill="#a8c3e6" stroke="#0070c0" stroke-width="1.5" stroke-dasharray="6 3.4"/><ellipse cx="1512.1" cy="667.4" rx="49.8" ry="11.7" fill="#9dc0c5" stroke="#70ad47" stroke-width="1.3" stroke-dasharray="6 3.4"/><ellipse cx="1513.1" cy="680.5" rx="33.2" ry="8" fill="#e6e6a6" fill-opacity="0.55" stroke="#ffc000" stroke-width="1.4" stroke-dasharray="5 3"/><rect x="1508.7" y="633" width="7" height="44" fill="#000"/><rect x="1509" y="677" width="6.4" height="12" fill="#4a6a50"/><ellipse cx="1512.1" cy="692" rx="16.6" ry="6" fill="#e8414c" stroke="#ff2a1a" stroke-width="1" stroke-dasharray="3 2"/><rect x="1509" y="697" width="6.4" height="12.3" fill="#000"/><ellipse cx="1512.1" cy="712.3" rx="16.3" ry="4.4" fill="#e8414c" stroke="#ff2a1a" stroke-width="1" stroke-dasharray="3 2"/><rect x="1509" y="693" width="6.4" height="9" fill="#c4121f"/><rect x="1509" y="709.3" width="6.4" height="5" fill="#c4121f"/><path d="M1484.1 685a30 6 0 0 0 56 0" fill="none" stroke="#ffc000" stroke-width="1.1" stroke-dasharray="4 2.5"/><path d="M1513.1 603.4L1528.3 634H1497.9Z" fill="#000"/><path d="M1322.3 700.4H1508.6M1515.6 700.4H1715.5V769" fill="none" stroke="#14274f" stroke-width="2.2"/><path d="M1715.5 700.4L1754 679.1" fill="none" stroke="#2a5a86" stroke-opacity="0.55" stroke-width="2.2"/><text transform="translate(1274,568) scale(0.955,1)" font-size="70" font-weight="bold">e</text><text x="1741" y="552" font-size="37" font-family="'Liberation Serif', serif" font-style="italic">B</text><text x="1764.5" y="559.5" font-size="25" font-family="'Liberation Serif', serif">⊥</text><path d="M1322.3 906L1532.8 790.9H1925L1715.5 906Z" fill="url(#ftop)" stroke="#14274f" stroke-width="1.6" stroke-linejoin="round"/><path d="M1322.3 906H1715.5V975.3H1322.3Z" fill="url(#ffront)" stroke="#14274f" stroke-width="2" stroke-linejoin="round"/><g transform="matrix(209.5,-115.1,1.5,70.3,1715.5,906)"><rect x="0" y="0" width="1" height="1" fill="url(#fside)"/><rect x="0" y="0" width="1" height="1" fill="url(#fsidefade)"/></g><path d="M1715.5 906L1925 790.9" stroke="#14274f" stroke-width="1.1" fill="none"/><path d="M1925 790.9V859.6" stroke="#000" stroke-width="1.6" fill="none"/><path d="M1716.8 976.3L1925 859.6" stroke="#000" stroke-width="2.6" fill="none"/><path d="M1715.5 906V975.8" stroke="#14274f" stroke-width="1.8" fill="none"/><path d="M1756.7 921.4H1800" stroke="#000" stroke-width="6.2"/><path d="M1828.8 921.4L1798 905.7V937.1Z" fill="#000"/><path d="M1803 891.2H1847" stroke="#000" stroke-width="6.2"/><path d="M1877 891.2L1845 875.5V906.9Z" fill="#000"/><path d="M1861.5 863H1905" stroke="#000" stroke-width="6.2"/><path d="M1933.6 863L1903 847.3V878.7Z" fill="#000"/><path d="M1907.8 839.7H1951" stroke="#000" stroke-width="6.2"/><path d="M1980 839.7L1949 824V855.4Z" fill="#000"/><text transform="translate(1274,852.9) scale(1.0,1)" font-size="68.5" font-weight="bold">f</text><text x="1940.3" y="789" font-size="37" font-family="'Liberation Serif', serif" font-style="italic">B</text><text x="1964.3" y="798.5" font-size="21" textLength="11.5" lengthAdjust="spacingAndGlyphs" font-family="'Liberation Serif', serif">∥</text></svg></body></html>
